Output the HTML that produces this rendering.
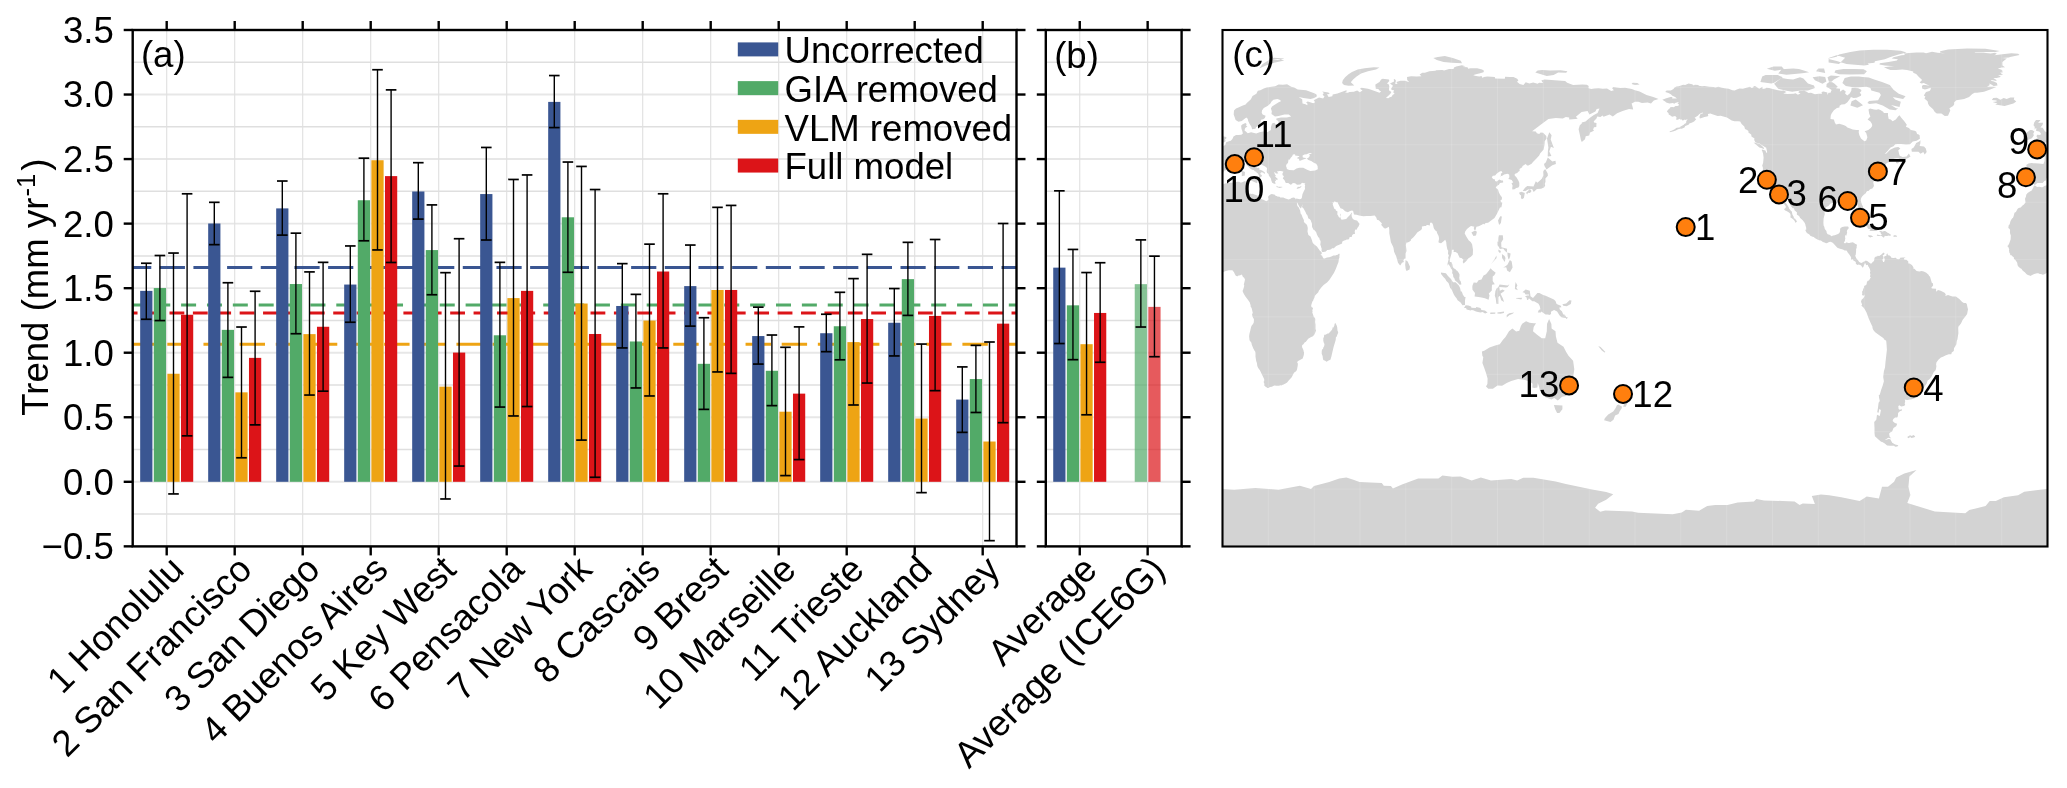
<!DOCTYPE html><html><head><meta charset="utf-8"><style>html,body{margin:0;padding:0;background:#fff;}svg{display:block;will-change:transform;}text{font-family:"Liberation Sans",sans-serif;}</style></head><body><svg width="2067" height="788" viewBox="0 0 2067 788"><rect width="2067" height="788" fill="#fff"/><defs><clipPath id="ca"><rect x="132.7" y="30.0" width="883.8" height="516.4"/></clipPath><clipPath id="cb"><rect x="1045.8" y="30.0" width="135.79999999999995" height="516.4"/></clipPath></defs><g clip-path="url(#ca)"><line x1="132.7" y1="546.35" x2="1016.5" y2="546.35" stroke="#e7e7e7" stroke-width="1.9"/><line x1="132.7" y1="514.07" x2="1016.5" y2="514.07" stroke="#dfdfdf" stroke-width="1.5"/><line x1="132.7" y1="481.80" x2="1016.5" y2="481.80" stroke="#e7e7e7" stroke-width="1.9"/><line x1="132.7" y1="449.53" x2="1016.5" y2="449.53" stroke="#dfdfdf" stroke-width="1.5"/><line x1="132.7" y1="417.25" x2="1016.5" y2="417.25" stroke="#e7e7e7" stroke-width="1.9"/><line x1="132.7" y1="384.98" x2="1016.5" y2="384.98" stroke="#dfdfdf" stroke-width="1.5"/><line x1="132.7" y1="352.71" x2="1016.5" y2="352.71" stroke="#e7e7e7" stroke-width="1.9"/><line x1="132.7" y1="320.44" x2="1016.5" y2="320.44" stroke="#dfdfdf" stroke-width="1.5"/><line x1="132.7" y1="288.17" x2="1016.5" y2="288.17" stroke="#e7e7e7" stroke-width="1.9"/><line x1="132.7" y1="255.89" x2="1016.5" y2="255.89" stroke="#dfdfdf" stroke-width="1.5"/><line x1="132.7" y1="223.62" x2="1016.5" y2="223.62" stroke="#e7e7e7" stroke-width="1.9"/><line x1="132.7" y1="191.35" x2="1016.5" y2="191.35" stroke="#dfdfdf" stroke-width="1.5"/><line x1="132.7" y1="159.07" x2="1016.5" y2="159.07" stroke="#e7e7e7" stroke-width="1.9"/><line x1="132.7" y1="126.80" x2="1016.5" y2="126.80" stroke="#dfdfdf" stroke-width="1.5"/><line x1="132.7" y1="94.53" x2="1016.5" y2="94.53" stroke="#e7e7e7" stroke-width="1.9"/><line x1="132.7" y1="62.26" x2="1016.5" y2="62.26" stroke="#dfdfdf" stroke-width="1.5"/><line x1="132.7" y1="29.99" x2="1016.5" y2="29.99" stroke="#e7e7e7" stroke-width="1.9"/><line x1="166.70" y1="30.0" x2="166.70" y2="546.4" stroke="#e0e0e0" stroke-width="1.1"/><line x1="234.70" y1="30.0" x2="234.70" y2="546.4" stroke="#e0e0e0" stroke-width="1.1"/><line x1="302.70" y1="30.0" x2="302.70" y2="546.4" stroke="#e0e0e0" stroke-width="1.1"/><line x1="370.70" y1="30.0" x2="370.70" y2="546.4" stroke="#e0e0e0" stroke-width="1.1"/><line x1="438.70" y1="30.0" x2="438.70" y2="546.4" stroke="#e0e0e0" stroke-width="1.1"/><line x1="506.70" y1="30.0" x2="506.70" y2="546.4" stroke="#e0e0e0" stroke-width="1.1"/><line x1="574.70" y1="30.0" x2="574.70" y2="546.4" stroke="#e0e0e0" stroke-width="1.1"/><line x1="642.70" y1="30.0" x2="642.70" y2="546.4" stroke="#e0e0e0" stroke-width="1.1"/><line x1="710.70" y1="30.0" x2="710.70" y2="546.4" stroke="#e0e0e0" stroke-width="1.1"/><line x1="778.70" y1="30.0" x2="778.70" y2="546.4" stroke="#e0e0e0" stroke-width="1.1"/><line x1="846.70" y1="30.0" x2="846.70" y2="546.4" stroke="#e0e0e0" stroke-width="1.1"/><line x1="914.70" y1="30.0" x2="914.70" y2="546.4" stroke="#e0e0e0" stroke-width="1.1"/><line x1="982.70" y1="30.0" x2="982.70" y2="546.4" stroke="#e0e0e0" stroke-width="1.1"/></g><g clip-path="url(#cb)"><line x1="1045.8" y1="546.35" x2="1181.6" y2="546.35" stroke="#e7e7e7" stroke-width="1.9"/><line x1="1045.8" y1="514.07" x2="1181.6" y2="514.07" stroke="#dfdfdf" stroke-width="1.5"/><line x1="1045.8" y1="481.80" x2="1181.6" y2="481.80" stroke="#e7e7e7" stroke-width="1.9"/><line x1="1045.8" y1="449.53" x2="1181.6" y2="449.53" stroke="#dfdfdf" stroke-width="1.5"/><line x1="1045.8" y1="417.25" x2="1181.6" y2="417.25" stroke="#e7e7e7" stroke-width="1.9"/><line x1="1045.8" y1="384.98" x2="1181.6" y2="384.98" stroke="#dfdfdf" stroke-width="1.5"/><line x1="1045.8" y1="352.71" x2="1181.6" y2="352.71" stroke="#e7e7e7" stroke-width="1.9"/><line x1="1045.8" y1="320.44" x2="1181.6" y2="320.44" stroke="#dfdfdf" stroke-width="1.5"/><line x1="1045.8" y1="288.17" x2="1181.6" y2="288.17" stroke="#e7e7e7" stroke-width="1.9"/><line x1="1045.8" y1="255.89" x2="1181.6" y2="255.89" stroke="#dfdfdf" stroke-width="1.5"/><line x1="1045.8" y1="223.62" x2="1181.6" y2="223.62" stroke="#e7e7e7" stroke-width="1.9"/><line x1="1045.8" y1="191.35" x2="1181.6" y2="191.35" stroke="#dfdfdf" stroke-width="1.5"/><line x1="1045.8" y1="159.07" x2="1181.6" y2="159.07" stroke="#e7e7e7" stroke-width="1.9"/><line x1="1045.8" y1="126.80" x2="1181.6" y2="126.80" stroke="#dfdfdf" stroke-width="1.5"/><line x1="1045.8" y1="94.53" x2="1181.6" y2="94.53" stroke="#e7e7e7" stroke-width="1.9"/><line x1="1045.8" y1="62.26" x2="1181.6" y2="62.26" stroke="#dfdfdf" stroke-width="1.5"/><line x1="1045.8" y1="29.99" x2="1181.6" y2="29.99" stroke="#e7e7e7" stroke-width="1.9"/><line x1="1079.75" y1="30.0" x2="1079.75" y2="546.4" stroke="#e0e0e0" stroke-width="1.1"/><line x1="1147.65" y1="30.0" x2="1147.65" y2="546.4" stroke="#e0e0e0" stroke-width="1.1"/></g><g clip-path="url(#ca)"><line x1="-42.27" y1="267.55" x2="1021.5" y2="267.55" stroke="#3a5692" stroke-width="2.9" stroke-dasharray="25.2 8.47"/><line x1="25.90" y1="304.99" x2="1021.5" y2="304.99" stroke="#52aa68" stroke-width="2.9" stroke-dasharray="15.0 10.866"/><line x1="29.16" y1="312.99" x2="1021.5" y2="312.99" stroke="#dc1418" stroke-width="2.9" stroke-dasharray="14.8 8.59"/><line x1="22.76" y1="344.23" x2="1021.5" y2="344.23" stroke="#eea414" stroke-width="2.9" stroke-dasharray="25.4 10.74"/></g><rect x="140.18" y="290.88" width="12.24" height="190.92" fill="#3a5692"/><rect x="153.78" y="288.04" width="12.24" height="193.76" fill="#52aa68"/><rect x="167.38" y="373.75" width="12.24" height="108.05" fill="#eea414"/><rect x="180.98" y="314.76" width="12.24" height="167.04" fill="#dc1418"/><line x1="146.30" y1="319.28" x2="146.30" y2="263.25" stroke="#000" stroke-width="1.4"/><line x1="141.00" y1="319.28" x2="151.60" y2="319.28" stroke="#000" stroke-width="1.7"/><line x1="141.00" y1="263.25" x2="151.60" y2="263.25" stroke="#000" stroke-width="1.7"/><line x1="159.90" y1="320.57" x2="159.90" y2="255.51" stroke="#000" stroke-width="1.4"/><line x1="154.60" y1="320.57" x2="165.20" y2="320.57" stroke="#000" stroke-width="1.7"/><line x1="154.60" y1="255.51" x2="165.20" y2="255.51" stroke="#000" stroke-width="1.7"/><line x1="173.50" y1="493.93" x2="173.50" y2="253.05" stroke="#000" stroke-width="1.4"/><line x1="168.20" y1="493.93" x2="178.80" y2="493.93" stroke="#000" stroke-width="1.7"/><line x1="168.20" y1="253.05" x2="178.80" y2="253.05" stroke="#000" stroke-width="1.7"/><line x1="187.10" y1="435.84" x2="187.10" y2="193.80" stroke="#000" stroke-width="1.4"/><line x1="181.80" y1="435.84" x2="192.40" y2="435.84" stroke="#000" stroke-width="1.7"/><line x1="181.80" y1="193.80" x2="192.40" y2="193.80" stroke="#000" stroke-width="1.7"/><rect x="208.18" y="223.49" width="12.24" height="258.31" fill="#3a5692"/><rect x="221.78" y="329.86" width="12.24" height="151.94" fill="#52aa68"/><rect x="235.38" y="392.34" width="12.24" height="89.46" fill="#eea414"/><rect x="248.98" y="357.87" width="12.24" height="123.93" fill="#dc1418"/><line x1="214.30" y1="244.66" x2="214.30" y2="202.32" stroke="#000" stroke-width="1.4"/><line x1="209.00" y1="244.66" x2="219.60" y2="244.66" stroke="#000" stroke-width="1.7"/><line x1="209.00" y1="202.32" x2="219.60" y2="202.32" stroke="#000" stroke-width="1.7"/><line x1="227.90" y1="377.37" x2="227.90" y2="282.74" stroke="#000" stroke-width="1.4"/><line x1="222.60" y1="377.37" x2="233.20" y2="377.37" stroke="#000" stroke-width="1.7"/><line x1="222.60" y1="282.74" x2="233.20" y2="282.74" stroke="#000" stroke-width="1.7"/><line x1="241.50" y1="457.79" x2="241.50" y2="327.02" stroke="#000" stroke-width="1.4"/><line x1="236.20" y1="457.79" x2="246.80" y2="457.79" stroke="#000" stroke-width="1.7"/><line x1="236.20" y1="327.02" x2="246.80" y2="327.02" stroke="#000" stroke-width="1.7"/><line x1="255.10" y1="424.87" x2="255.10" y2="291.26" stroke="#000" stroke-width="1.4"/><line x1="249.80" y1="424.87" x2="260.40" y2="424.87" stroke="#000" stroke-width="1.7"/><line x1="249.80" y1="291.26" x2="260.40" y2="291.26" stroke="#000" stroke-width="1.7"/><rect x="276.18" y="208.39" width="12.24" height="273.41" fill="#3a5692"/><rect x="289.78" y="284.03" width="12.24" height="197.77" fill="#52aa68"/><rect x="303.38" y="334.12" width="12.24" height="147.68" fill="#eea414"/><rect x="316.98" y="326.76" width="12.24" height="155.04" fill="#dc1418"/><line x1="282.30" y1="235.11" x2="282.30" y2="181.02" stroke="#000" stroke-width="1.4"/><line x1="277.00" y1="235.11" x2="287.60" y2="235.11" stroke="#000" stroke-width="1.7"/><line x1="277.00" y1="181.02" x2="287.60" y2="181.02" stroke="#000" stroke-width="1.7"/><line x1="295.90" y1="333.73" x2="295.90" y2="233.17" stroke="#000" stroke-width="1.4"/><line x1="290.60" y1="333.73" x2="301.20" y2="333.73" stroke="#000" stroke-width="1.7"/><line x1="290.60" y1="233.17" x2="301.20" y2="233.17" stroke="#000" stroke-width="1.7"/><line x1="309.50" y1="395.05" x2="309.50" y2="271.90" stroke="#000" stroke-width="1.4"/><line x1="304.20" y1="395.05" x2="314.80" y2="395.05" stroke="#000" stroke-width="1.7"/><line x1="304.20" y1="271.90" x2="314.80" y2="271.90" stroke="#000" stroke-width="1.7"/><line x1="323.10" y1="391.18" x2="323.10" y2="262.35" stroke="#000" stroke-width="1.4"/><line x1="317.80" y1="391.18" x2="328.40" y2="391.18" stroke="#000" stroke-width="1.7"/><line x1="317.80" y1="262.35" x2="328.40" y2="262.35" stroke="#000" stroke-width="1.7"/><rect x="344.18" y="284.55" width="12.24" height="197.25" fill="#3a5692"/><rect x="357.78" y="200.25" width="12.24" height="281.55" fill="#52aa68"/><rect x="371.38" y="160.24" width="12.24" height="321.56" fill="#eea414"/><rect x="384.98" y="176.11" width="12.24" height="305.69" fill="#dc1418"/><line x1="350.30" y1="322.24" x2="350.30" y2="245.95" stroke="#000" stroke-width="1.4"/><line x1="345.00" y1="322.24" x2="355.60" y2="322.24" stroke="#000" stroke-width="1.7"/><line x1="345.00" y1="245.95" x2="355.60" y2="245.95" stroke="#000" stroke-width="1.7"/><line x1="363.90" y1="240.79" x2="363.90" y2="158.17" stroke="#000" stroke-width="1.4"/><line x1="358.60" y1="240.79" x2="369.20" y2="240.79" stroke="#000" stroke-width="1.7"/><line x1="358.60" y1="158.17" x2="369.20" y2="158.17" stroke="#000" stroke-width="1.7"/><line x1="377.50" y1="249.95" x2="377.50" y2="69.74" stroke="#000" stroke-width="1.4"/><line x1="372.20" y1="249.95" x2="382.80" y2="249.95" stroke="#000" stroke-width="1.7"/><line x1="372.20" y1="69.74" x2="382.80" y2="69.74" stroke="#000" stroke-width="1.7"/><line x1="391.10" y1="262.48" x2="391.10" y2="89.88" stroke="#000" stroke-width="1.4"/><line x1="385.80" y1="262.48" x2="396.40" y2="262.48" stroke="#000" stroke-width="1.7"/><line x1="385.80" y1="89.88" x2="396.40" y2="89.88" stroke="#000" stroke-width="1.7"/><rect x="412.18" y="191.48" width="12.24" height="290.32" fill="#3a5692"/><rect x="425.78" y="250.08" width="12.24" height="231.72" fill="#52aa68"/><rect x="439.38" y="386.66" width="12.24" height="95.14" fill="#eea414"/><rect x="452.98" y="352.58" width="12.24" height="129.22" fill="#dc1418"/><line x1="418.30" y1="219.10" x2="418.30" y2="162.69" stroke="#000" stroke-width="1.4"/><line x1="413.00" y1="219.10" x2="423.60" y2="219.10" stroke="#000" stroke-width="1.7"/><line x1="413.00" y1="162.69" x2="423.60" y2="162.69" stroke="#000" stroke-width="1.7"/><line x1="431.90" y1="294.75" x2="431.90" y2="204.90" stroke="#000" stroke-width="1.4"/><line x1="426.60" y1="294.75" x2="437.20" y2="294.75" stroke="#000" stroke-width="1.7"/><line x1="426.60" y1="204.90" x2="437.20" y2="204.90" stroke="#000" stroke-width="1.7"/><line x1="445.50" y1="498.97" x2="445.50" y2="272.67" stroke="#000" stroke-width="1.4"/><line x1="440.20" y1="498.97" x2="450.80" y2="498.97" stroke="#000" stroke-width="1.7"/><line x1="440.20" y1="272.67" x2="450.80" y2="272.67" stroke="#000" stroke-width="1.7"/><line x1="459.10" y1="466.05" x2="459.10" y2="238.72" stroke="#000" stroke-width="1.4"/><line x1="453.80" y1="466.05" x2="464.40" y2="466.05" stroke="#000" stroke-width="1.7"/><line x1="453.80" y1="238.72" x2="464.40" y2="238.72" stroke="#000" stroke-width="1.7"/><rect x="480.18" y="194.06" width="12.24" height="287.74" fill="#3a5692"/><rect x="493.78" y="335.28" width="12.24" height="146.52" fill="#52aa68"/><rect x="507.38" y="298.10" width="12.24" height="183.70" fill="#eea414"/><rect x="520.98" y="290.88" width="12.24" height="190.92" fill="#dc1418"/><line x1="486.30" y1="240.01" x2="486.30" y2="147.46" stroke="#000" stroke-width="1.4"/><line x1="481.00" y1="240.01" x2="491.60" y2="240.01" stroke="#000" stroke-width="1.7"/><line x1="481.00" y1="147.46" x2="491.60" y2="147.46" stroke="#000" stroke-width="1.7"/><line x1="499.90" y1="407.06" x2="499.90" y2="262.35" stroke="#000" stroke-width="1.4"/><line x1="494.60" y1="407.06" x2="505.20" y2="407.06" stroke="#000" stroke-width="1.7"/><line x1="494.60" y1="262.35" x2="505.20" y2="262.35" stroke="#000" stroke-width="1.7"/><line x1="513.50" y1="415.96" x2="513.50" y2="179.47" stroke="#000" stroke-width="1.4"/><line x1="508.20" y1="415.96" x2="518.80" y2="415.96" stroke="#000" stroke-width="1.7"/><line x1="508.20" y1="179.47" x2="518.80" y2="179.47" stroke="#000" stroke-width="1.7"/><line x1="527.10" y1="406.54" x2="527.10" y2="174.95" stroke="#000" stroke-width="1.4"/><line x1="521.80" y1="406.54" x2="532.40" y2="406.54" stroke="#000" stroke-width="1.7"/><line x1="521.80" y1="174.95" x2="532.40" y2="174.95" stroke="#000" stroke-width="1.7"/><rect x="548.18" y="101.89" width="12.24" height="379.91" fill="#3a5692"/><rect x="561.78" y="217.29" width="12.24" height="264.51" fill="#52aa68"/><rect x="575.38" y="303.53" width="12.24" height="178.27" fill="#eea414"/><rect x="588.98" y="333.99" width="12.24" height="147.81" fill="#dc1418"/><line x1="554.30" y1="127.58" x2="554.30" y2="75.55" stroke="#000" stroke-width="1.4"/><line x1="549.00" y1="127.58" x2="559.60" y2="127.58" stroke="#000" stroke-width="1.7"/><line x1="549.00" y1="75.55" x2="559.60" y2="75.55" stroke="#000" stroke-width="1.7"/><line x1="567.90" y1="272.29" x2="567.90" y2="162.04" stroke="#000" stroke-width="1.4"/><line x1="562.60" y1="272.29" x2="573.20" y2="272.29" stroke="#000" stroke-width="1.7"/><line x1="562.60" y1="162.04" x2="573.20" y2="162.04" stroke="#000" stroke-width="1.7"/><line x1="581.50" y1="440.10" x2="581.50" y2="166.43" stroke="#000" stroke-width="1.4"/><line x1="576.20" y1="440.10" x2="586.80" y2="440.10" stroke="#000" stroke-width="1.7"/><line x1="576.20" y1="166.43" x2="586.80" y2="166.43" stroke="#000" stroke-width="1.7"/><line x1="595.10" y1="477.28" x2="595.10" y2="189.54" stroke="#000" stroke-width="1.4"/><line x1="589.80" y1="477.28" x2="600.40" y2="477.28" stroke="#000" stroke-width="1.7"/><line x1="589.80" y1="189.54" x2="600.40" y2="189.54" stroke="#000" stroke-width="1.7"/><rect x="616.18" y="305.98" width="12.24" height="175.82" fill="#3a5692"/><rect x="629.78" y="341.48" width="12.24" height="140.32" fill="#52aa68"/><rect x="643.38" y="320.57" width="12.24" height="161.23" fill="#eea414"/><rect x="656.98" y="271.51" width="12.24" height="210.29" fill="#dc1418"/><line x1="622.30" y1="347.93" x2="622.30" y2="263.64" stroke="#000" stroke-width="1.4"/><line x1="617.00" y1="347.93" x2="627.60" y2="347.93" stroke="#000" stroke-width="1.7"/><line x1="617.00" y1="263.64" x2="627.60" y2="263.64" stroke="#000" stroke-width="1.7"/><line x1="635.90" y1="387.95" x2="635.90" y2="294.36" stroke="#000" stroke-width="1.4"/><line x1="630.60" y1="387.95" x2="641.20" y2="387.95" stroke="#000" stroke-width="1.7"/><line x1="630.60" y1="294.36" x2="641.20" y2="294.36" stroke="#000" stroke-width="1.7"/><line x1="649.50" y1="395.96" x2="649.50" y2="244.15" stroke="#000" stroke-width="1.4"/><line x1="644.20" y1="395.96" x2="654.80" y2="395.96" stroke="#000" stroke-width="1.7"/><line x1="644.20" y1="244.15" x2="654.80" y2="244.15" stroke="#000" stroke-width="1.7"/><line x1="663.10" y1="347.93" x2="663.10" y2="193.80" stroke="#000" stroke-width="1.4"/><line x1="657.80" y1="347.93" x2="668.40" y2="347.93" stroke="#000" stroke-width="1.7"/><line x1="657.80" y1="193.80" x2="668.40" y2="193.80" stroke="#000" stroke-width="1.7"/><rect x="684.18" y="286.10" width="12.24" height="195.70" fill="#3a5692"/><rect x="697.78" y="363.81" width="12.24" height="117.99" fill="#52aa68"/><rect x="711.38" y="289.97" width="12.24" height="191.83" fill="#eea414"/><rect x="724.98" y="289.97" width="12.24" height="191.83" fill="#dc1418"/><line x1="690.30" y1="326.12" x2="690.30" y2="245.05" stroke="#000" stroke-width="1.4"/><line x1="685.00" y1="326.12" x2="695.60" y2="326.12" stroke="#000" stroke-width="1.7"/><line x1="685.00" y1="245.05" x2="695.60" y2="245.05" stroke="#000" stroke-width="1.7"/><line x1="703.90" y1="409.38" x2="703.90" y2="317.73" stroke="#000" stroke-width="1.4"/><line x1="698.60" y1="409.38" x2="709.20" y2="409.38" stroke="#000" stroke-width="1.7"/><line x1="698.60" y1="317.73" x2="709.20" y2="317.73" stroke="#000" stroke-width="1.7"/><line x1="717.50" y1="371.94" x2="717.50" y2="207.35" stroke="#000" stroke-width="1.4"/><line x1="712.20" y1="371.94" x2="722.80" y2="371.94" stroke="#000" stroke-width="1.7"/><line x1="712.20" y1="207.35" x2="722.80" y2="207.35" stroke="#000" stroke-width="1.7"/><line x1="731.10" y1="373.36" x2="731.10" y2="205.42" stroke="#000" stroke-width="1.4"/><line x1="725.80" y1="373.36" x2="736.40" y2="373.36" stroke="#000" stroke-width="1.7"/><line x1="725.80" y1="205.42" x2="736.40" y2="205.42" stroke="#000" stroke-width="1.7"/><rect x="752.18" y="336.06" width="12.24" height="145.74" fill="#3a5692"/><rect x="765.78" y="370.78" width="12.24" height="111.02" fill="#52aa68"/><rect x="779.38" y="411.70" width="12.24" height="70.10" fill="#eea414"/><rect x="792.98" y="393.63" width="12.24" height="88.17" fill="#dc1418"/><line x1="758.30" y1="364.07" x2="758.30" y2="307.14" stroke="#000" stroke-width="1.4"/><line x1="753.00" y1="364.07" x2="763.60" y2="364.07" stroke="#000" stroke-width="1.7"/><line x1="753.00" y1="307.14" x2="763.60" y2="307.14" stroke="#000" stroke-width="1.7"/><line x1="771.90" y1="405.64" x2="771.90" y2="335.02" stroke="#000" stroke-width="1.4"/><line x1="766.60" y1="405.64" x2="777.20" y2="405.64" stroke="#000" stroke-width="1.7"/><line x1="766.60" y1="335.02" x2="777.20" y2="335.02" stroke="#000" stroke-width="1.7"/><line x1="785.50" y1="475.60" x2="785.50" y2="347.29" stroke="#000" stroke-width="1.4"/><line x1="780.20" y1="475.60" x2="790.80" y2="475.60" stroke="#000" stroke-width="1.7"/><line x1="780.20" y1="347.29" x2="790.80" y2="347.29" stroke="#000" stroke-width="1.7"/><line x1="799.10" y1="459.60" x2="799.10" y2="326.89" stroke="#000" stroke-width="1.4"/><line x1="793.80" y1="459.60" x2="804.40" y2="459.60" stroke="#000" stroke-width="1.7"/><line x1="793.80" y1="326.89" x2="804.40" y2="326.89" stroke="#000" stroke-width="1.7"/><rect x="820.18" y="333.22" width="12.24" height="148.58" fill="#3a5692"/><rect x="833.78" y="326.25" width="12.24" height="155.55" fill="#52aa68"/><rect x="847.38" y="342.12" width="12.24" height="139.68" fill="#eea414"/><rect x="860.98" y="319.02" width="12.24" height="162.78" fill="#dc1418"/><line x1="826.30" y1="351.68" x2="826.30" y2="314.24" stroke="#000" stroke-width="1.4"/><line x1="821.00" y1="351.68" x2="831.60" y2="351.68" stroke="#000" stroke-width="1.7"/><line x1="821.00" y1="314.24" x2="831.60" y2="314.24" stroke="#000" stroke-width="1.7"/><line x1="839.90" y1="359.81" x2="839.90" y2="292.30" stroke="#000" stroke-width="1.4"/><line x1="834.60" y1="359.81" x2="845.20" y2="359.81" stroke="#000" stroke-width="1.7"/><line x1="834.60" y1="292.30" x2="845.20" y2="292.30" stroke="#000" stroke-width="1.7"/><line x1="853.50" y1="404.99" x2="853.50" y2="278.61" stroke="#000" stroke-width="1.4"/><line x1="848.20" y1="404.99" x2="858.80" y2="404.99" stroke="#000" stroke-width="1.7"/><line x1="848.20" y1="278.61" x2="858.80" y2="278.61" stroke="#000" stroke-width="1.7"/><line x1="867.10" y1="383.05" x2="867.10" y2="254.34" stroke="#000" stroke-width="1.4"/><line x1="861.80" y1="383.05" x2="872.40" y2="383.05" stroke="#000" stroke-width="1.7"/><line x1="861.80" y1="254.34" x2="872.40" y2="254.34" stroke="#000" stroke-width="1.7"/><rect x="888.18" y="322.76" width="12.24" height="159.04" fill="#3a5692"/><rect x="901.78" y="279.13" width="12.24" height="202.67" fill="#52aa68"/><rect x="915.38" y="418.55" width="12.24" height="63.25" fill="#eea414"/><rect x="928.98" y="315.92" width="12.24" height="165.88" fill="#dc1418"/><line x1="894.30" y1="355.94" x2="894.30" y2="288.55" stroke="#000" stroke-width="1.4"/><line x1="889.00" y1="355.94" x2="899.60" y2="355.94" stroke="#000" stroke-width="1.7"/><line x1="889.00" y1="288.55" x2="899.60" y2="288.55" stroke="#000" stroke-width="1.7"/><line x1="907.90" y1="315.40" x2="907.90" y2="242.34" stroke="#000" stroke-width="1.4"/><line x1="902.60" y1="315.40" x2="913.20" y2="315.40" stroke="#000" stroke-width="1.7"/><line x1="902.60" y1="242.34" x2="913.20" y2="242.34" stroke="#000" stroke-width="1.7"/><line x1="921.50" y1="492.64" x2="921.50" y2="344.06" stroke="#000" stroke-width="1.4"/><line x1="916.20" y1="492.64" x2="926.80" y2="492.64" stroke="#000" stroke-width="1.7"/><line x1="916.20" y1="344.06" x2="926.80" y2="344.06" stroke="#000" stroke-width="1.7"/><line x1="935.10" y1="390.66" x2="935.10" y2="239.50" stroke="#000" stroke-width="1.4"/><line x1="929.80" y1="390.66" x2="940.40" y2="390.66" stroke="#000" stroke-width="1.7"/><line x1="929.80" y1="239.50" x2="940.40" y2="239.50" stroke="#000" stroke-width="1.7"/><rect x="956.18" y="399.57" width="12.24" height="82.23" fill="#3a5692"/><rect x="969.78" y="379.04" width="12.24" height="102.76" fill="#52aa68"/><rect x="983.38" y="441.52" width="12.24" height="40.28" fill="#eea414"/><rect x="996.98" y="323.66" width="12.24" height="158.14" fill="#dc1418"/><line x1="962.30" y1="432.36" x2="962.30" y2="366.91" stroke="#000" stroke-width="1.4"/><line x1="957.00" y1="432.36" x2="967.60" y2="432.36" stroke="#000" stroke-width="1.7"/><line x1="957.00" y1="366.91" x2="967.60" y2="366.91" stroke="#000" stroke-width="1.7"/><line x1="975.90" y1="412.48" x2="975.90" y2="345.35" stroke="#000" stroke-width="1.4"/><line x1="970.60" y1="412.48" x2="981.20" y2="412.48" stroke="#000" stroke-width="1.7"/><line x1="970.60" y1="345.35" x2="981.20" y2="345.35" stroke="#000" stroke-width="1.7"/><line x1="989.50" y1="540.67" x2="989.50" y2="342.00" stroke="#000" stroke-width="1.4"/><line x1="984.20" y1="540.67" x2="994.80" y2="540.67" stroke="#000" stroke-width="1.7"/><line x1="984.20" y1="342.00" x2="994.80" y2="342.00" stroke="#000" stroke-width="1.7"/><line x1="1003.10" y1="422.68" x2="1003.10" y2="223.49" stroke="#000" stroke-width="1.4"/><line x1="997.80" y1="422.68" x2="1008.40" y2="422.68" stroke="#000" stroke-width="1.7"/><line x1="997.80" y1="223.49" x2="1008.40" y2="223.49" stroke="#000" stroke-width="1.7"/><rect x="1053.23" y="267.64" width="12.24" height="214.16" fill="#3a5692"/><rect x="1066.83" y="305.33" width="12.24" height="176.47" fill="#52aa68"/><rect x="1080.43" y="344.19" width="12.24" height="137.61" fill="#eea414"/><rect x="1094.03" y="312.95" width="12.24" height="168.85" fill="#dc1418"/><line x1="1059.35" y1="343.54" x2="1059.35" y2="190.83" stroke="#000" stroke-width="1.4"/><line x1="1054.05" y1="343.54" x2="1064.65" y2="343.54" stroke="#000" stroke-width="1.7"/><line x1="1054.05" y1="190.83" x2="1064.65" y2="190.83" stroke="#000" stroke-width="1.7"/><line x1="1072.95" y1="359.68" x2="1072.95" y2="249.44" stroke="#000" stroke-width="1.4"/><line x1="1067.65" y1="359.68" x2="1078.25" y2="359.68" stroke="#000" stroke-width="1.7"/><line x1="1067.65" y1="249.44" x2="1078.25" y2="249.44" stroke="#000" stroke-width="1.7"/><line x1="1086.55" y1="414.80" x2="1086.55" y2="272.55" stroke="#000" stroke-width="1.4"/><line x1="1081.25" y1="414.80" x2="1091.85" y2="414.80" stroke="#000" stroke-width="1.7"/><line x1="1081.25" y1="272.55" x2="1091.85" y2="272.55" stroke="#000" stroke-width="1.7"/><line x1="1100.15" y1="362.26" x2="1100.15" y2="262.73" stroke="#000" stroke-width="1.4"/><line x1="1094.85" y1="362.26" x2="1105.45" y2="362.26" stroke="#000" stroke-width="1.7"/><line x1="1094.85" y1="262.73" x2="1105.45" y2="262.73" stroke="#000" stroke-width="1.7"/><rect x="1134.73" y="284.16" width="12.24" height="197.64" fill="#52aa68" fill-opacity="0.7"/><rect x="1148.33" y="306.88" width="12.24" height="174.92" fill="#dc1418" fill-opacity="0.7"/><line x1="1140.85" y1="327.02" x2="1140.85" y2="239.89" stroke="#000" stroke-width="1.4"/><line x1="1135.55" y1="327.02" x2="1146.15" y2="327.02" stroke="#000" stroke-width="1.7"/><line x1="1135.55" y1="239.89" x2="1146.15" y2="239.89" stroke="#000" stroke-width="1.7"/><line x1="1154.45" y1="356.71" x2="1154.45" y2="256.15" stroke="#000" stroke-width="1.4"/><line x1="1149.15" y1="356.71" x2="1159.75" y2="356.71" stroke="#000" stroke-width="1.7"/><line x1="1149.15" y1="256.15" x2="1159.75" y2="256.15" stroke="#000" stroke-width="1.7"/><rect x="132.7" y="30.0" width="883.8" height="516.4" fill="none" stroke="#000" stroke-width="2.4"/><line x1="123.69999999999999" y1="546.35" x2="132.7" y2="546.35" stroke="#000" stroke-width="2.4"/><line x1="1016.5" y1="546.35" x2="1025.5" y2="546.35" stroke="#000" stroke-width="2.4"/><line x1="123.69999999999999" y1="481.80" x2="132.7" y2="481.80" stroke="#000" stroke-width="2.4"/><line x1="1016.5" y1="481.80" x2="1025.5" y2="481.80" stroke="#000" stroke-width="2.4"/><line x1="123.69999999999999" y1="417.25" x2="132.7" y2="417.25" stroke="#000" stroke-width="2.4"/><line x1="1016.5" y1="417.25" x2="1025.5" y2="417.25" stroke="#000" stroke-width="2.4"/><line x1="123.69999999999999" y1="352.71" x2="132.7" y2="352.71" stroke="#000" stroke-width="2.4"/><line x1="1016.5" y1="352.71" x2="1025.5" y2="352.71" stroke="#000" stroke-width="2.4"/><line x1="123.69999999999999" y1="288.17" x2="132.7" y2="288.17" stroke="#000" stroke-width="2.4"/><line x1="1016.5" y1="288.17" x2="1025.5" y2="288.17" stroke="#000" stroke-width="2.4"/><line x1="123.69999999999999" y1="223.62" x2="132.7" y2="223.62" stroke="#000" stroke-width="2.4"/><line x1="1016.5" y1="223.62" x2="1025.5" y2="223.62" stroke="#000" stroke-width="2.4"/><line x1="123.69999999999999" y1="159.07" x2="132.7" y2="159.07" stroke="#000" stroke-width="2.4"/><line x1="1016.5" y1="159.07" x2="1025.5" y2="159.07" stroke="#000" stroke-width="2.4"/><line x1="123.69999999999999" y1="94.53" x2="132.7" y2="94.53" stroke="#000" stroke-width="2.4"/><line x1="1016.5" y1="94.53" x2="1025.5" y2="94.53" stroke="#000" stroke-width="2.4"/><line x1="123.69999999999999" y1="29.99" x2="132.7" y2="29.99" stroke="#000" stroke-width="2.4"/><line x1="1016.5" y1="29.99" x2="1025.5" y2="29.99" stroke="#000" stroke-width="2.4"/><line x1="166.70" y1="546.4" x2="166.70" y2="555.4" stroke="#000" stroke-width="2.4"/><line x1="166.70" y1="30.0" x2="166.70" y2="21.0" stroke="#000" stroke-width="2.4"/><line x1="234.70" y1="546.4" x2="234.70" y2="555.4" stroke="#000" stroke-width="2.4"/><line x1="234.70" y1="30.0" x2="234.70" y2="21.0" stroke="#000" stroke-width="2.4"/><line x1="302.70" y1="546.4" x2="302.70" y2="555.4" stroke="#000" stroke-width="2.4"/><line x1="302.70" y1="30.0" x2="302.70" y2="21.0" stroke="#000" stroke-width="2.4"/><line x1="370.70" y1="546.4" x2="370.70" y2="555.4" stroke="#000" stroke-width="2.4"/><line x1="370.70" y1="30.0" x2="370.70" y2="21.0" stroke="#000" stroke-width="2.4"/><line x1="438.70" y1="546.4" x2="438.70" y2="555.4" stroke="#000" stroke-width="2.4"/><line x1="438.70" y1="30.0" x2="438.70" y2="21.0" stroke="#000" stroke-width="2.4"/><line x1="506.70" y1="546.4" x2="506.70" y2="555.4" stroke="#000" stroke-width="2.4"/><line x1="506.70" y1="30.0" x2="506.70" y2="21.0" stroke="#000" stroke-width="2.4"/><line x1="574.70" y1="546.4" x2="574.70" y2="555.4" stroke="#000" stroke-width="2.4"/><line x1="574.70" y1="30.0" x2="574.70" y2="21.0" stroke="#000" stroke-width="2.4"/><line x1="642.70" y1="546.4" x2="642.70" y2="555.4" stroke="#000" stroke-width="2.4"/><line x1="642.70" y1="30.0" x2="642.70" y2="21.0" stroke="#000" stroke-width="2.4"/><line x1="710.70" y1="546.4" x2="710.70" y2="555.4" stroke="#000" stroke-width="2.4"/><line x1="710.70" y1="30.0" x2="710.70" y2="21.0" stroke="#000" stroke-width="2.4"/><line x1="778.70" y1="546.4" x2="778.70" y2="555.4" stroke="#000" stroke-width="2.4"/><line x1="778.70" y1="30.0" x2="778.70" y2="21.0" stroke="#000" stroke-width="2.4"/><line x1="846.70" y1="546.4" x2="846.70" y2="555.4" stroke="#000" stroke-width="2.4"/><line x1="846.70" y1="30.0" x2="846.70" y2="21.0" stroke="#000" stroke-width="2.4"/><line x1="914.70" y1="546.4" x2="914.70" y2="555.4" stroke="#000" stroke-width="2.4"/><line x1="914.70" y1="30.0" x2="914.70" y2="21.0" stroke="#000" stroke-width="2.4"/><line x1="982.70" y1="546.4" x2="982.70" y2="555.4" stroke="#000" stroke-width="2.4"/><line x1="982.70" y1="30.0" x2="982.70" y2="21.0" stroke="#000" stroke-width="2.4"/><rect x="1045.8" y="30.0" width="135.79999999999995" height="516.4" fill="none" stroke="#000" stroke-width="2.4"/><line x1="1036.8" y1="546.35" x2="1045.8" y2="546.35" stroke="#000" stroke-width="2.4"/><line x1="1181.6" y1="546.35" x2="1190.6" y2="546.35" stroke="#000" stroke-width="2.4"/><line x1="1036.8" y1="481.80" x2="1045.8" y2="481.80" stroke="#000" stroke-width="2.4"/><line x1="1181.6" y1="481.80" x2="1190.6" y2="481.80" stroke="#000" stroke-width="2.4"/><line x1="1036.8" y1="417.25" x2="1045.8" y2="417.25" stroke="#000" stroke-width="2.4"/><line x1="1181.6" y1="417.25" x2="1190.6" y2="417.25" stroke="#000" stroke-width="2.4"/><line x1="1036.8" y1="352.71" x2="1045.8" y2="352.71" stroke="#000" stroke-width="2.4"/><line x1="1181.6" y1="352.71" x2="1190.6" y2="352.71" stroke="#000" stroke-width="2.4"/><line x1="1036.8" y1="288.17" x2="1045.8" y2="288.17" stroke="#000" stroke-width="2.4"/><line x1="1181.6" y1="288.17" x2="1190.6" y2="288.17" stroke="#000" stroke-width="2.4"/><line x1="1036.8" y1="223.62" x2="1045.8" y2="223.62" stroke="#000" stroke-width="2.4"/><line x1="1181.6" y1="223.62" x2="1190.6" y2="223.62" stroke="#000" stroke-width="2.4"/><line x1="1036.8" y1="159.07" x2="1045.8" y2="159.07" stroke="#000" stroke-width="2.4"/><line x1="1181.6" y1="159.07" x2="1190.6" y2="159.07" stroke="#000" stroke-width="2.4"/><line x1="1036.8" y1="94.53" x2="1045.8" y2="94.53" stroke="#000" stroke-width="2.4"/><line x1="1181.6" y1="94.53" x2="1190.6" y2="94.53" stroke="#000" stroke-width="2.4"/><line x1="1036.8" y1="29.99" x2="1045.8" y2="29.99" stroke="#000" stroke-width="2.4"/><line x1="1181.6" y1="29.99" x2="1190.6" y2="29.99" stroke="#000" stroke-width="2.4"/><line x1="1079.75" y1="546.4" x2="1079.75" y2="555.4" stroke="#000" stroke-width="2.4"/><line x1="1079.75" y1="30.0" x2="1079.75" y2="21.0" stroke="#000" stroke-width="2.4"/><line x1="1147.65" y1="546.4" x2="1147.65" y2="555.4" stroke="#000" stroke-width="2.4"/><line x1="1147.65" y1="30.0" x2="1147.65" y2="21.0" stroke="#000" stroke-width="2.4"/><text x="113.8" y="559.25" font-size="36.6" text-anchor="end">−0.5</text><text x="113.8" y="494.70" font-size="36.6" text-anchor="end">0.0</text><text x="113.8" y="430.15" font-size="36.6" text-anchor="end">0.5</text><text x="113.8" y="365.61" font-size="36.6" text-anchor="end">1.0</text><text x="113.8" y="301.06" font-size="36.6" text-anchor="end">1.5</text><text x="113.8" y="236.52" font-size="36.6" text-anchor="end">2.0</text><text x="113.8" y="171.97" font-size="36.6" text-anchor="end">2.5</text><text x="113.8" y="107.43" font-size="36.6" text-anchor="end">3.0</text><text x="113.8" y="42.89" font-size="36.6" text-anchor="end">3.5</text><text transform="translate(47.7,287.2) rotate(-90)" font-size="36.6" text-anchor="middle">Trend (mm yr<tspan font-size="25.6" dx="1" dy="-13">-1</tspan><tspan dx="3" dy="13">)</tspan></text><text transform="translate(167.20,552.90) rotate(-45)" font-size="36.6" text-anchor="end" dominant-baseline="hanging">1 Honolulu</text><text transform="translate(235.20,552.90) rotate(-45)" font-size="36.6" text-anchor="end" dominant-baseline="hanging">2 San Francisco</text><text transform="translate(303.20,552.90) rotate(-45)" font-size="36.6" text-anchor="end" dominant-baseline="hanging">3 San Diego</text><text transform="translate(371.20,552.90) rotate(-45)" font-size="36.6" text-anchor="end" dominant-baseline="hanging">4 Buenos Aires</text><text transform="translate(439.20,552.90) rotate(-45)" font-size="36.6" text-anchor="end" dominant-baseline="hanging">5 Key West</text><text transform="translate(507.20,552.90) rotate(-45)" font-size="36.6" text-anchor="end" dominant-baseline="hanging">6 Pensacola</text><text transform="translate(575.20,552.90) rotate(-45)" font-size="36.6" text-anchor="end" dominant-baseline="hanging">7 New York</text><text transform="translate(643.20,552.90) rotate(-45)" font-size="36.6" text-anchor="end" dominant-baseline="hanging">8 Cascais</text><text transform="translate(711.20,552.90) rotate(-45)" font-size="36.6" text-anchor="end" dominant-baseline="hanging">9 Brest</text><text transform="translate(779.20,552.90) rotate(-45)" font-size="36.6" text-anchor="end" dominant-baseline="hanging">10 Marseille</text><text transform="translate(847.20,552.90) rotate(-45)" font-size="36.6" text-anchor="end" dominant-baseline="hanging">11 Trieste</text><text transform="translate(915.20,552.90) rotate(-45)" font-size="36.6" text-anchor="end" dominant-baseline="hanging">12 Auckland</text><text transform="translate(983.20,552.90) rotate(-45)" font-size="36.6" text-anchor="end" dominant-baseline="hanging">13 Sydney</text><text transform="translate(1080.25,552.90) rotate(-45)" font-size="36.6" text-anchor="end" dominant-baseline="hanging">Average</text><text transform="translate(1148.15,552.90) rotate(-45)" font-size="36.6" text-anchor="end" dominant-baseline="hanging">Average (ICE6G)</text><text x="140.9" y="66.8" font-size="36.6">(a)</text><text x="1054.2" y="67.5" font-size="36.6">(b)</text><rect x="737.8" y="42.40" width="40.4" height="14" fill="#3a5692"/><text x="784.5" y="63.30" font-size="36.6">Uncorrected</text><rect x="737.8" y="81.12" width="40.4" height="14" fill="#52aa68"/><text x="784.5" y="102.02" font-size="36.6">GIA removed</text><rect x="737.8" y="119.84" width="40.4" height="14" fill="#eea414"/><text x="784.5" y="140.74" font-size="36.6">VLM removed</text><rect x="737.8" y="158.56" width="40.4" height="14" fill="#dc1418"/><text x="784.5" y="179.46" font-size="36.6">Full model</text><g id="map"><rect x="1222.5" y="30.0" width="825.0" height="516.5" fill="#fff"/><clipPath id="cm"><rect x="1222.5" y="30.0" width="825.0" height="516.5"/></clipPath><g clip-path="url(#cm)"><path d="M1209.7,184.9L1207.8,182.7L1205.5,181.5L1202.1,182.2L1202.3,179.5L1202.1,177.8L1200.8,177.2L1201.2,175.2L1202.1,172.9L1202.6,170.0L1202.1,168.0L1201.2,164.9L1203.5,163.4L1206.5,163.1L1209.9,163.3L1213.8,163.6L1218.4,163.9L1219.5,161.1L1219.8,157.7L1219.8,155.7L1217.5,153.1L1215.6,152.0L1212.2,150.8L1211.6,149.4L1213.3,148.5L1215.6,148.2L1217.9,148.8L1219.3,148.5L1218.8,145.8L1220.2,146.5L1223.0,146.2L1225.2,144.9L1226.2,142.2L1228.2,141.6L1230.8,140.8L1232.4,139.0L1233.5,136.5L1236.0,135.0L1238.5,135.0L1241.3,134.7L1242.9,133.6L1242.2,130.7L1241.5,129.0L1241.1,125.8L1242.2,124.4L1245.4,123.0L1246.6,124.1L1246.1,125.8L1247.5,126.4L1245.2,128.1L1244.5,130.4L1245.9,131.6L1247.7,133.3L1251.1,132.2L1254.1,133.0L1256.2,133.6L1260.3,131.9L1265.1,131.3L1267.4,132.2L1270.9,129.9L1270.9,127.3L1272.0,123.5L1274.3,122.7L1276.1,124.7L1278.4,124.1L1278.4,121.0L1276.4,120.1L1276.4,118.4L1280.9,117.5L1286.7,117.5L1291.2,116.4L1288.7,114.6L1284.4,114.6L1278.6,116.1L1275.0,116.4L1271.5,114.1L1271.8,111.2L1270.9,108.6L1272.0,106.6L1274.3,104.9L1279.1,102.0L1280.7,101.4L1280.5,100.3L1278.9,99.4L1277.3,98.9L1273.4,99.7L1271.3,101.7L1270.6,103.2L1267.9,105.8L1263.8,108.0L1262.1,110.3L1261.7,112.4L1262.6,114.4L1265.6,115.8L1264.9,118.1L1263.3,119.2L1261.0,119.8L1260.3,123.3L1259.2,125.8L1256.2,127.0L1255.5,128.7L1252.1,129.3L1251.4,126.7L1249.5,123.8L1248.2,121.0L1247.7,118.7L1246.3,117.5L1244.3,119.0L1241.8,121.0L1238.5,121.8L1235.6,120.1L1234.6,116.9L1233.7,114.6L1234.0,110.6L1236.0,108.6L1239.0,107.2L1242.2,105.8L1245.6,104.6L1246.6,103.2L1250.9,99.2L1252.5,96.0L1256.4,93.7L1257.8,90.8L1260.3,90.3L1263.8,88.5L1266.5,87.4L1271.5,86.8L1275.2,86.2L1278.6,84.5L1283.0,84.8L1287.1,84.2L1291.2,86.8L1294.2,87.4L1297.7,89.4L1306.1,90.3L1314.9,93.4L1316.7,94.8L1316.7,96.6L1314.2,98.0L1310.5,98.9L1303.6,98.0L1298.6,97.1L1302.2,99.2L1302.5,103.5L1305.5,104.3L1307.3,105.2L1307.5,103.7L1306.1,102.3L1307.8,101.4L1313.2,103.2L1315.1,102.3L1313.7,100.3L1319.0,97.4L1323.1,98.6L1324.5,96.6L1322.6,94.8L1323.8,93.1L1322.2,91.4L1328.4,92.6L1329.8,94.0L1327.0,94.3L1328.6,96.9L1332.3,96.3L1332.7,94.6L1337.5,93.4L1345.6,90.5L1347.4,90.8L1345.1,92.6L1347.9,92.8L1349.5,92.0L1353.8,91.7L1357.2,90.5L1359.8,92.3L1362.5,90.5L1360.0,88.8L1361.4,87.7L1368.0,88.8L1371.2,89.7L1379.5,92.8L1381.1,91.4L1378.8,90.0L1378.6,89.1L1375.8,88.8L1375.4,85.4L1375.4,84.5L1379.5,81.9L1381.1,79.4L1382.7,78.8L1388.9,79.4L1389.3,81.1L1387.0,83.4L1388.6,84.2L1389.3,86.2L1388.9,90.3L1391.4,92.0L1390.2,94.0L1385.9,98.0L1388.4,98.3L1389.3,97.4L1391.9,96.6L1392.5,95.1L1394.6,93.7L1393.2,92.3L1394.1,90.3L1391.6,90.0L1391.2,88.5L1393.0,85.7L1390.0,83.4L1394.1,81.4L1393.7,79.4L1394.8,79.1L1396.0,80.8L1395.1,83.7L1397.6,83.9L1396.4,81.9L1400.3,80.8L1405.1,80.8L1409.3,82.2L1407.2,79.9L1407.0,77.1L1411.1,76.2L1416.6,76.5L1421.4,76.2L1419.6,74.5L1422.3,72.8L1424.9,72.8L1429.4,71.3L1435.4,70.7L1436.1,70.2L1442.3,69.9L1444.1,70.5L1449.1,69.0L1453.5,69.0L1454.0,67.6L1456.2,66.4L1461.8,65.3L1465.6,66.2L1462.4,67.0L1467.5,67.3L1468.2,68.7L1470.5,68.2L1477.1,68.2L1482.1,69.6L1484.0,70.7L1483.5,72.2L1481.0,73.0L1475.0,74.5L1473.2,75.3L1476.0,75.9L1479.4,76.5L1481.5,75.9L1482.6,77.9L1483.8,77.1L1487.4,76.5L1494.8,77.1L1495.2,78.5L1504.8,78.8L1505.1,76.8L1509.9,77.1L1513.5,77.1L1517.2,78.8L1518.4,80.5L1517.0,81.7L1519.7,83.9L1523.4,85.1L1525.7,82.2L1529.4,83.4L1533.2,82.5L1537.6,83.7L1539.2,82.8L1543.1,83.1L1541.3,80.5L1544.5,79.4L1565.1,81.1L1567.2,82.8L1573.1,85.1L1582.3,84.5L1586.9,84.8L1588.7,86.0L1588.5,88.2L1591.2,89.1L1594.4,88.5L1598.6,88.2L1602.7,88.8L1607.0,88.5L1611.2,91.1L1613.9,90.3L1612.1,88.2L1613.2,87.1L1620.3,88.0L1625.1,87.7L1631.8,89.1L1635.0,90.3L1639.6,91.4L1646.5,95.1L1653.3,97.1L1658.6,98.9L1653.8,100.6L1651.0,103.5L1647.6,102.6L1641.9,102.9L1638.4,101.7L1635.0,101.7L1631.6,103.5L1632.5,106.6L1633.2,109.5L1629.0,108.9L1622.6,110.9L1617.1,113.2L1612.8,116.4L1609.6,114.4L1603.6,116.7L1602.5,115.5L1600.4,116.9L1597.2,116.4L1596.5,118.4L1593.8,121.2L1594.0,122.4L1596.5,123.0L1596.3,127.0L1594.0,127.3L1593.1,129.6L1594.0,130.7L1590.1,132.4L1589.2,135.6L1585.7,136.2L1585.0,139.3L1581.8,141.9L1580.9,139.9L1580.0,135.6L1578.6,129.3L1579.8,125.3L1581.8,123.5L1581.8,122.4L1585.5,121.5L1589.6,118.1L1593.5,115.2L1597.6,112.9L1599.5,108.6L1596.7,108.9L1595.4,111.5L1589.4,114.6L1587.6,110.9L1581.6,112.1L1575.9,116.7L1577.7,118.7L1572.7,119.2L1569.2,119.5L1569.2,117.5L1565.8,116.9L1562.8,118.4L1555.9,118.1L1548.4,119.0L1541.0,124.4L1532.1,131.3L1535.8,131.6L1536.9,133.3L1539.2,133.9L1540.6,132.4L1543.1,132.7L1546.3,135.9L1546.5,138.5L1544.7,141.3L1544.5,144.8L1543.6,149.4L1540.1,153.4L1539.2,155.4L1536.2,158.8L1533.0,162.0L1531.6,163.7L1528.4,165.4L1527.1,165.4L1525.7,164.0L1522.5,166.0L1522.2,167.2L1519.5,168.9L1519.7,170.9L1518.6,171.5L1517.2,172.9L1515.8,173.5L1514.7,174.0L1514.7,175.5L1516.6,177.5L1518.6,180.9L1519.3,182.7L1519.3,186.1L1518.4,187.5L1516.3,188.1L1514.5,189.3L1512.4,189.5L1512.2,188.1L1512.6,185.8L1511.5,182.9L1513.3,182.4L1511.7,180.1L1509.6,179.2L1508.3,178.9L1509.4,177.2L1509.2,174.6L1507.4,173.8L1504.1,174.6L1502.3,175.8L1499.9,176.6L1501.2,175.2L1500.7,174.0L1502.5,172.3L1501.2,170.9L1499.3,171.8L1496.6,173.8L1495.2,175.5L1492.9,175.8L1491.8,177.2L1493.1,178.9L1495.0,179.5L1495.0,180.9L1496.8,181.5L1499.3,179.5L1501.4,180.6L1503.0,180.6L1503.2,182.4L1500.0,182.9L1498.9,184.7L1496.8,186.1L1495.7,187.8L1498.0,189.5L1498.9,192.4L1500.2,195.0L1501.9,197.3L1501.9,199.6L1500.5,200.2L1500.9,201.9L1502.3,202.7L1501.4,207.3L1500.0,207.6L1496.6,214.5L1494.5,217.9L1488.1,222.8L1485.6,223.1L1484.2,224.5L1483.3,223.7L1481.9,224.8L1478.7,226.3L1476.4,226.8L1475.5,230.0L1474.4,230.0L1473.7,228.0L1474.4,226.8L1471.1,226.0L1470.1,226.4L1467.0,228.9L1465.2,231.4L1464.7,233.4L1466.3,236.6L1468.6,240.3L1470.7,242.1L1472.1,244.3L1473.0,249.8L1472.8,254.7L1470.9,256.7L1468.2,258.4L1466.3,261.0L1463.6,263.6L1462.7,261.9L1463.4,259.8L1461.5,258.1L1459.7,257.8L1458.8,256.1L1457.6,253.2L1455.6,252.1L1453.5,252.1L1453.9,249.8L1451.9,249.8L1451.7,253.0L1449.8,259.7L1449.8,261.9L1451.4,261.9L1452.4,264.4L1452.8,267.0L1454.0,268.5L1455.3,269.0L1456.5,270.5L1457.2,270.7L1458.5,272.5L1459.5,274.2L1459.5,276.2L1459.2,277.6L1459.5,279.6L1459.7,280.2L1460.6,281.1L1461.3,283.7L1461.3,284.5L1459.7,284.8L1457.6,282.6L1454.9,280.2L1454.6,278.8L1453.3,277.1L1453.0,274.5L1452.1,273.0L1452.4,271.0L1451.9,269.6L1451.0,268.7L1450.5,267.3L1449.4,265.6L1448.2,264.1L1447.8,265.9L1447.5,264.1L1447.8,262.4L1448.5,259.8L1448.2,257.5L1448.9,255.5L1448.0,253.8L1448.2,250.7L1447.3,249.2L1446.6,245.8L1446.2,242.1L1445.2,239.8L1443.6,241.2L1441.1,243.2L1439.8,242.9L1438.4,242.3L1439.1,238.6L1438.6,236.0L1436.8,232.6L1437.2,231.7L1435.9,231.1L1434.2,228.9L1433.6,227.4L1433.3,226.0L1432.9,224.5L1432.0,222.8L1429.9,222.8L1430.1,224.0L1429.4,225.7L1428.3,225.1L1426.5,225.0L1426.2,226.0L1424.6,226.0L1421.9,226.6L1421.9,228.9L1420.7,230.3L1417.5,232.3L1414.8,235.7L1413.2,237.5L1410.9,239.5L1410.9,240.6L1409.7,241.5L1407.7,242.5L1406.5,242.6L1405.8,244.9L1406.3,248.7L1406.5,250.9L1405.6,253.5L1405.6,258.4L1404.2,258.7L1403.3,260.7L1404.0,261.9L1401.9,262.7L1401.0,264.4L1400.1,265.4L1398.0,262.7L1396.9,258.7L1396.0,255.8L1395.3,254.4L1394.1,251.8L1393.5,248.1L1393.0,246.4L1390.9,242.3L1390.0,236.9L1389.3,233.2L1389.3,229.7L1388.9,226.8L1385.7,228.6L1384.1,228.3L1381.1,224.8L1382.0,223.7L1381.3,222.8L1378.8,220.2L1377.0,219.7L1376.3,217.4L1374.7,215.4L1370.3,215.9L1366.6,215.9L1363.4,216.2L1359.1,215.4L1356.6,214.8L1354.0,214.5L1353.1,210.9L1352.0,210.5L1350.1,210.9L1347.9,212.2L1345.1,211.3L1342.8,209.1L1340.5,208.2L1339.1,205.6L1337.3,201.9L1336.2,202.2L1334.6,201.3L1333.9,202.5L1332.4,202.2L1333.0,203.6L1332.7,204.2L1333.4,206.2L1334.3,208.8L1335.5,209.3L1335.9,210.5L1337.5,211.6L1337.3,213.9L1337.5,214.8L1338.2,215.7L1338.9,217.2L1340.1,217.7L1340.8,215.9L1340.8,214.2L1340.1,213.4L1340.8,218.7L1341.7,219.7L1346.2,219.1L1347.9,217.1L1349.5,215.4L1351.1,213.4L1351.8,212.5L1352.0,212.8L1351.8,213.9L1351.5,214.5L1351.8,216.8L1352.7,218.8L1354.0,219.7L1355.6,220.2L1357.0,220.5L1358.9,223.1L1359.5,223.7L1359.5,224.3L1358.4,226.8L1357.5,227.7L1356.6,229.7L1355.4,229.4L1355.0,230.3L1354.7,231.7L1355.0,233.4L1354.7,234.0L1353.6,234.0L1352.2,234.9L1352.0,236.3L1351.5,236.9L1350.1,236.9L1349.2,237.7L1349.2,238.9L1348.1,239.6L1346.7,239.5L1345.3,240.3L1344.2,240.5L1342.6,241.2L1342.1,242.6L1342.1,243.5L1339.8,244.6L1336.2,246.1L1334.1,248.1L1333.0,248.4L1332.3,248.1L1331.1,249.2L1329.5,249.8L1327.7,250.1L1327.0,250.1L1326.5,250.9L1325.9,251.1L1325.6,251.8L1324.5,251.8L1323.8,252.1L1322.2,252.1L1321.5,250.4L1321.7,248.7L1321.3,247.8L1320.8,245.8L1320.1,244.6L1320.6,244.3L1320.4,243.2L1320.6,242.6L1320.6,241.5L1320.1,240.0L1319.4,239.2L1319.4,238.0L1318.3,237.2L1316.9,234.6L1316.2,232.3L1314.6,230.3L1313.7,230.0L1312.1,227.1L1311.9,223.4L1310.7,220.2L1309.6,219.1L1308.4,218.5L1307.8,216.8L1307.8,216.2L1307.1,214.8L1306.4,214.2L1305.5,211.9L1304.1,209.6L1302.9,207.6L1301.8,207.6L1302.2,206.2L1302.6,203.9L1301.1,198.7L1301.8,197.9L1302.5,194.1L1302.9,193.3L1303.9,191.0L1305.0,189.0L1304.8,186.7L1305.2,185.5L1304.5,184.1L1305.5,183.1L1304.0,183.2L1302.0,182.7L1300.4,184.4L1297.0,184.7L1295.1,183.2L1292.6,182.9L1292.2,184.1L1290.6,184.7L1288.3,182.9L1285.8,182.9L1284.4,180.1L1282.8,178.6L1283.9,176.3L1282.5,174.9L1282.5,173.2L1283.5,171.8L1282.1,171.2L1280.7,170.9L1279.6,170.9L1276.8,171.5L1278.4,173.2L1277.3,173.6L1275.9,173.6L1274.8,172.0L1274.3,172.6L1274.8,174.3L1275.9,175.8L1275.1,176.4L1276.4,177.8L1277.5,178.6L1277.5,180.1L1275.4,179.5L1276.1,180.9L1274.8,181.2L1275.7,183.8L1274.1,183.8L1272.2,182.7L1271.3,180.4L1270.9,178.4L1269.9,176.9L1268.8,175.5L1268.8,174.6L1268.3,174.3L1268.2,173.8L1267.0,172.8L1266.7,171.5L1267.0,168.0L1265.8,166.9L1264.8,166.3L1262.6,165.3L1261.2,164.3L1259.2,163.4L1257.3,161.4L1257.8,161.1L1256.6,160.0L1256.6,158.8L1255.3,158.6L1254.5,159.7L1253.9,158.8L1254.1,157.4L1252.5,157.1L1251.4,157.7L1250.7,158.0L1250.9,159.4L1250.7,160.3L1251.4,161.7L1253.4,163.1L1254.6,165.4L1257.1,167.9L1258.9,167.8L1259.6,168.6L1258.9,169.2L1262.1,170.6L1264.7,172.3L1264.9,172.9L1264.4,174.0L1263.1,172.6L1261.2,172.3L1260.1,174.0L1261.9,175.2L1261.7,176.6L1260.5,176.9L1259.4,179.2L1258.5,179.5L1258.5,178.6L1258.9,177.1L1259.4,176.3L1257.8,173.3L1256.9,172.9L1256.2,171.8L1254.8,171.2L1253.7,170.0L1252.1,169.7L1250.2,168.6L1248.2,166.6L1246.6,165.2L1245.9,162.3L1244.7,161.9L1242.9,160.8L1241.8,161.4L1240.5,162.6L1239.5,162.9L1237.4,164.6L1233.0,163.7L1229.6,164.6L1229.4,166.3L1229.8,168.0L1227.3,170.0L1224.3,170.6L1222.7,173.2L1221.8,175.5L1222.7,177.2L1221.4,178.4L1220.9,180.4L1219.3,180.9L1217.7,182.9L1212.4,182.9L1211.0,184.1L1210.1,185.1ZM2034.7,184.9L2032.8,182.7L2030.5,181.5L2027.1,182.2L2027.3,179.5L2027.1,177.8L2025.8,177.2L2026.2,175.2L2027.1,172.9L2027.6,170.0L2027.1,168.0L2026.2,164.9L2028.5,163.4L2031.5,163.1L2034.9,163.3L2038.8,163.6L2043.4,163.9L2044.5,161.1L2044.8,157.7L2044.8,155.7L2042.5,153.1L2040.6,152.0L2037.2,150.8L2036.6,149.4L2038.3,148.5L2040.6,148.2L2042.9,148.8L2044.3,148.5L2043.8,145.8L2045.2,146.5L2048.0,146.2L2050.2,144.9L2051.2,142.2L2053.2,141.6L2055.8,140.8L2057.4,139.0L2058.5,136.5L2061.0,135.0L2063.5,135.0L2066.3,134.7L2067.9,133.6L2067.2,130.7L2066.5,129.0L2066.1,125.8L2067.2,124.4L2070.4,123.0L2071.6,124.1L2071.1,125.8L2072.5,126.4L2070.2,128.1L2069.5,130.4L2070.9,131.6L2072.7,133.3L2076.1,132.2L2079.1,133.0L2081.2,133.6L2085.3,131.9L2090.1,131.3L2092.4,132.2L2095.9,129.9L2095.9,127.3L2097.0,123.5L2099.3,122.7L2101.1,124.7L2103.4,124.1L2103.4,121.0L2101.4,120.1L2101.4,118.4L2105.9,117.5L2111.7,117.5L2116.2,116.4L2113.7,114.6L2109.4,114.6L2103.6,116.1L2100.0,116.4L2096.5,114.1L2096.8,111.2L2095.9,108.6L2097.0,106.6L2099.3,104.9L2104.1,102.0L2105.7,101.4L2105.5,100.3L2103.9,99.4L2102.3,98.9L2098.4,99.7L2096.3,101.7L2095.6,103.2L2092.9,105.8L2088.8,108.0L2087.1,110.3L2086.7,112.4L2087.6,114.4L2090.6,115.8L2089.9,118.1L2088.3,119.2L2086.0,119.8L2085.3,123.3L2084.2,125.8L2081.2,127.0L2080.5,128.7L2077.1,129.3L2076.4,126.7L2074.5,123.8L2073.2,121.0L2072.7,118.7L2071.3,117.5L2069.3,119.0L2066.8,121.0L2063.5,121.8L2060.6,120.1L2059.6,116.9L2058.7,114.6L2059.0,110.6L2061.0,108.6L2064.0,107.2L2067.2,105.8L2070.6,104.6L2071.6,103.2L2075.9,99.2L2077.5,96.0L2081.4,93.7L2082.8,90.8L2085.3,90.3L2088.8,88.5L2091.5,87.4L2096.5,86.8L2100.2,86.2L2103.6,84.5L2108.0,84.8L2112.1,84.2L2116.2,86.8L2119.2,87.4L2122.7,89.4L2131.1,90.3L2139.9,93.4L2141.7,94.8L2141.7,96.6L2139.2,98.0L2135.5,98.9L2128.6,98.0L2123.6,97.1L2127.2,99.2L2127.5,103.5L2130.5,104.3L2132.3,105.2L2132.5,103.7L2131.1,102.3L2132.8,101.4L2138.2,103.2L2140.1,102.3L2138.7,100.3L2144.0,97.4L2148.1,98.6L2149.5,96.6L2147.6,94.8L2148.8,93.1L2147.2,91.4L2153.4,92.6L2154.8,94.0L2152.0,94.3L2153.6,96.9L2157.3,96.3L2157.7,94.6L2162.5,93.4L2170.6,90.5L2172.4,90.8L2170.1,92.6L2172.9,92.8L2174.5,92.0L2178.8,91.7L2182.2,90.5L2184.8,92.3L2187.5,90.5L2185.0,88.8L2186.4,87.7L2193.0,88.8L2196.2,89.7L2204.5,92.8L2206.1,91.4L2203.8,90.0L2203.6,89.1L2200.8,88.8L2200.4,85.4L2200.4,84.5L2204.5,81.9L2206.1,79.4L2207.7,78.8L2213.9,79.4L2214.3,81.1L2212.0,83.4L2213.6,84.2L2214.3,86.2L2213.9,90.3L2216.4,92.0L2215.2,94.0L2210.9,98.0L2213.4,98.3L2214.3,97.4L2216.9,96.6L2217.5,95.1L2219.6,93.7L2218.2,92.3L2219.1,90.3L2216.6,90.0L2216.2,88.5L2218.0,85.7L2215.0,83.4L2219.1,81.4L2218.7,79.4L2219.8,79.1L2221.0,80.8L2220.1,83.7L2222.6,83.9L2221.4,81.9L2225.3,80.8L2230.1,80.8L2234.3,82.2L2232.2,79.9L2232.0,77.1L2236.1,76.2L2241.6,76.5L2246.4,76.2L2244.6,74.5L2247.3,72.8L2249.9,72.8L2254.4,71.3L2260.4,70.7L2261.1,70.2L2267.3,69.9L2269.1,70.5L2274.1,69.0L2278.5,69.0L2279.0,67.6L2281.2,66.4L2286.8,65.3L2290.6,66.2L2287.4,67.0L2292.5,67.3L2293.2,68.7L2295.5,68.2L2302.1,68.2L2307.1,69.6L2309.0,70.7L2308.5,72.2L2306.0,73.0L2300.0,74.5L2298.2,75.3L2301.0,75.9L2304.4,76.5L2306.5,75.9L2307.6,77.9L2308.8,77.1L2312.4,76.5L2319.8,77.1L2320.2,78.5L2329.8,78.8L2330.1,76.8L2334.9,77.1L2338.5,77.1L2342.2,78.8L2343.4,80.5L2342.0,81.7L2344.7,83.9L2348.4,85.1L2350.7,82.2L2354.4,83.4L2358.2,82.5L2362.6,83.7L2364.2,82.8L2368.1,83.1L2366.3,80.5L2369.5,79.4L2390.1,81.1L2392.2,82.8L2398.1,85.1L2407.3,84.5L2411.9,84.8L2413.7,86.0L2413.5,88.2L2416.2,89.1L2419.4,88.5L2423.6,88.2L2427.7,88.8L2432.0,88.5L2436.2,91.1L2438.9,90.3L2437.1,88.2L2438.2,87.1L2445.3,88.0L2450.1,87.7L2456.8,89.1L2460.0,90.3L2464.6,91.4L2471.5,95.1L2478.3,97.1L2483.6,98.9L2478.8,100.6L2476.0,103.5L2472.6,102.6L2466.9,102.9L2463.4,101.7L2460.0,101.7L2456.6,103.5L2457.5,106.6L2458.2,109.5L2454.0,108.9L2447.6,110.9L2442.1,113.2L2437.8,116.4L2434.6,114.4L2428.6,116.7L2427.5,115.5L2425.4,116.9L2422.2,116.4L2421.5,118.4L2418.8,121.2L2419.0,122.4L2421.5,123.0L2421.3,127.0L2419.0,127.3L2418.1,129.6L2419.0,130.7L2415.1,132.4L2414.2,135.6L2410.7,136.2L2410.0,139.3L2406.8,141.9L2405.9,139.9L2405.0,135.6L2403.6,129.3L2404.8,125.3L2406.8,123.5L2406.8,122.4L2410.5,121.5L2414.6,118.1L2418.5,115.2L2422.6,112.9L2424.5,108.6L2421.7,108.9L2420.4,111.5L2414.4,114.6L2412.6,110.9L2406.6,112.1L2400.9,116.7L2402.7,118.7L2397.7,119.2L2394.2,119.5L2394.2,117.5L2390.8,116.9L2387.8,118.4L2380.9,118.1L2373.4,119.0L2366.0,124.4L2357.1,131.3L2360.8,131.6L2361.9,133.3L2364.2,133.9L2365.6,132.4L2368.1,132.7L2371.3,135.9L2371.5,138.5L2369.7,141.3L2369.5,144.8L2368.6,149.4L2365.1,153.4L2364.2,155.4L2361.2,158.8L2358.0,162.0L2356.6,163.7L2353.4,165.4L2352.1,165.4L2350.7,164.0L2347.5,166.0L2347.2,167.2L2344.5,168.9L2344.7,170.9L2343.6,171.5L2342.2,172.9L2340.8,173.5L2339.7,174.0L2339.7,175.5L2341.6,177.5L2343.6,180.9L2344.3,182.7L2344.3,186.1L2343.4,187.5L2341.3,188.1L2339.5,189.3L2337.4,189.5L2337.2,188.1L2337.6,185.8L2336.5,182.9L2338.3,182.4L2336.7,180.1L2334.6,179.2L2333.3,178.9L2334.4,177.2L2334.2,174.6L2332.4,173.8L2329.1,174.6L2327.3,175.8L2324.9,176.6L2326.2,175.2L2325.7,174.0L2327.5,172.3L2326.2,170.9L2324.3,171.8L2321.6,173.8L2320.2,175.5L2317.9,175.8L2316.8,177.2L2318.1,178.9L2320.0,179.5L2320.0,180.9L2321.8,181.5L2324.3,179.5L2326.4,180.6L2328.0,180.6L2328.2,182.4L2325.0,182.9L2323.9,184.7L2321.8,186.1L2320.7,187.8L2323.0,189.5L2323.9,192.4L2325.2,195.0L2326.9,197.3L2326.9,199.6L2325.5,200.2L2325.9,201.9L2327.3,202.7L2326.4,207.3L2325.0,207.6L2321.6,214.5L2319.5,217.9L2313.1,222.8L2310.6,223.1L2309.2,224.5L2308.3,223.7L2306.9,224.8L2303.7,226.3L2301.4,226.8L2300.5,230.0L2299.4,230.0L2298.7,228.0L2299.4,226.8L2296.1,226.0L2295.1,226.4L2292.0,228.9L2290.2,231.4L2289.7,233.4L2291.3,236.6L2293.6,240.3L2295.7,242.1L2297.1,244.3L2298.0,249.8L2297.8,254.7L2295.9,256.7L2293.2,258.4L2291.3,261.0L2288.6,263.6L2287.7,261.9L2288.4,259.8L2286.5,258.1L2284.7,257.8L2283.8,256.1L2282.6,253.2L2280.6,252.1L2278.5,252.1L2278.9,249.8L2276.9,249.8L2276.7,253.0L2274.8,259.7L2274.8,261.9L2276.4,261.9L2277.4,264.4L2277.8,267.0L2279.0,268.5L2280.3,269.0L2281.5,270.5L2282.2,270.7L2283.4,272.5L2284.5,274.2L2284.5,276.2L2284.2,277.6L2284.5,279.6L2284.7,280.2L2285.6,281.1L2286.3,283.7L2286.3,284.5L2284.7,284.8L2282.6,282.6L2279.9,280.2L2279.6,278.8L2278.3,277.1L2278.0,274.5L2277.1,273.0L2277.4,271.0L2276.9,269.6L2276.0,268.7L2275.5,267.3L2274.4,265.6L2273.2,264.1L2272.8,265.9L2272.5,264.1L2272.8,262.4L2273.5,259.8L2273.2,257.5L2273.9,255.5L2273.0,253.8L2273.2,250.7L2272.3,249.2L2271.6,245.8L2271.2,242.1L2270.2,239.8L2268.6,241.2L2266.1,243.2L2264.8,242.9L2263.4,242.3L2264.1,238.6L2263.6,236.0L2261.8,232.6L2262.2,231.7L2260.9,231.1L2259.2,228.9L2258.6,227.4L2258.3,226.0L2257.9,224.5L2257.0,222.8L2254.9,222.8L2255.1,224.0L2254.4,225.7L2253.3,225.1L2251.5,225.0L2251.2,226.0L2249.6,226.0L2246.9,226.6L2246.9,228.9L2245.7,230.3L2242.5,232.3L2239.8,235.7L2238.2,237.5L2235.9,239.5L2235.9,240.6L2234.7,241.5L2232.7,242.5L2231.5,242.6L2230.8,244.9L2231.3,248.7L2231.5,250.9L2230.6,253.5L2230.6,258.4L2229.2,258.7L2228.3,260.7L2229.0,261.9L2226.9,262.7L2226.0,264.4L2225.1,265.4L2223.0,262.7L2221.9,258.7L2221.0,255.8L2220.3,254.4L2219.1,251.8L2218.5,248.1L2218.0,246.4L2215.9,242.3L2215.0,236.9L2214.3,233.2L2214.3,229.7L2213.9,226.8L2210.7,228.6L2209.1,228.3L2206.1,224.8L2207.0,223.7L2206.3,222.8L2203.8,220.2L2202.0,219.7L2201.3,217.4L2199.7,215.4L2195.3,215.9L2191.6,215.9L2188.4,216.2L2184.1,215.4L2181.6,214.8L2179.0,214.5L2178.1,210.9L2177.0,210.5L2175.1,210.9L2172.9,212.2L2170.1,211.3L2167.8,209.1L2165.5,208.2L2164.1,205.6L2162.3,201.9L2161.2,202.2L2159.6,201.3L2158.9,202.5L2157.4,202.2L2158.0,203.6L2157.7,204.2L2158.4,206.2L2159.3,208.8L2160.5,209.3L2160.9,210.5L2162.5,211.6L2162.3,213.9L2162.5,214.8L2163.2,215.7L2163.9,217.2L2165.1,217.7L2165.8,215.9L2165.8,214.2L2165.1,213.4L2165.8,218.7L2166.7,219.7L2171.2,219.1L2172.9,217.1L2174.5,215.4L2176.1,213.4L2176.8,212.5L2177.0,212.8L2176.8,213.9L2176.5,214.5L2176.8,216.8L2177.7,218.8L2179.0,219.7L2180.6,220.2L2182.0,220.5L2183.9,223.1L2184.5,223.7L2184.5,224.3L2183.4,226.8L2182.5,227.7L2181.6,229.7L2180.4,229.4L2180.0,230.3L2179.7,231.7L2180.0,233.4L2179.7,234.0L2178.6,234.0L2177.2,234.9L2177.0,236.3L2176.5,236.9L2175.1,236.9L2174.2,237.7L2174.2,238.9L2173.1,239.6L2171.7,239.5L2170.3,240.3L2169.2,240.5L2167.6,241.2L2167.1,242.6L2167.1,243.5L2164.8,244.6L2161.2,246.1L2159.1,248.1L2158.0,248.4L2157.3,248.1L2156.1,249.2L2154.5,249.8L2152.7,250.1L2152.0,250.1L2151.5,250.9L2150.9,251.1L2150.6,251.8L2149.5,251.8L2148.8,252.1L2147.2,252.1L2146.5,250.4L2146.7,248.7L2146.3,247.8L2145.8,245.8L2145.1,244.6L2145.6,244.3L2145.4,243.2L2145.6,242.6L2145.6,241.5L2145.1,240.0L2144.4,239.2L2144.4,238.0L2143.3,237.2L2141.9,234.6L2141.2,232.3L2139.6,230.3L2138.7,230.0L2137.1,227.1L2136.9,223.4L2135.7,220.2L2134.6,219.1L2133.4,218.5L2132.8,216.8L2132.8,216.2L2132.1,214.8L2131.4,214.2L2130.5,211.9L2129.1,209.6L2127.9,207.6L2126.8,207.6L2127.2,206.2L2127.6,203.9L2126.1,198.7L2126.8,197.9L2127.5,194.1L2127.9,193.3L2128.9,191.0L2130.0,189.0L2129.8,186.7L2130.2,185.5L2129.5,184.1L2130.5,183.1L2129.0,183.2L2127.0,182.7L2125.4,184.4L2122.0,184.7L2120.1,183.2L2117.6,182.9L2117.2,184.1L2115.6,184.7L2113.3,182.9L2110.8,182.9L2109.4,180.1L2107.8,178.6L2108.9,176.3L2107.5,174.9L2107.5,173.2L2108.5,171.8L2107.1,171.2L2105.7,170.9L2104.6,170.9L2101.8,171.5L2103.4,173.2L2102.3,173.6L2100.9,173.6L2099.8,172.0L2099.3,172.6L2099.8,174.3L2100.9,175.8L2100.1,176.4L2101.4,177.8L2102.5,178.6L2102.5,180.1L2100.4,179.5L2101.1,180.9L2099.8,181.2L2100.7,183.8L2099.1,183.8L2097.2,182.7L2096.3,180.4L2095.9,178.4L2094.9,176.9L2093.8,175.5L2093.8,174.6L2093.3,174.3L2093.2,173.8L2092.0,172.8L2091.7,171.5L2092.0,168.0L2090.8,166.9L2089.8,166.3L2087.6,165.3L2086.2,164.3L2084.2,163.4L2082.3,161.4L2082.8,161.1L2081.6,160.0L2081.6,158.8L2080.3,158.6L2079.5,159.7L2078.9,158.8L2079.1,157.4L2077.5,157.1L2076.4,157.7L2075.7,158.0L2075.9,159.4L2075.7,160.3L2076.4,161.7L2078.4,163.1L2079.6,165.4L2082.1,167.9L2083.9,167.8L2084.6,168.6L2083.9,169.2L2087.1,170.6L2089.7,172.3L2089.9,172.9L2089.4,174.0L2088.1,172.6L2086.2,172.3L2085.1,174.0L2086.9,175.2L2086.7,176.6L2085.5,176.9L2084.4,179.2L2083.5,179.5L2083.5,178.6L2083.9,177.1L2084.4,176.3L2082.8,173.3L2081.9,172.9L2081.2,171.8L2079.8,171.2L2078.7,170.0L2077.1,169.7L2075.2,168.6L2073.2,166.6L2071.6,165.2L2070.9,162.3L2069.7,161.9L2067.9,160.8L2066.8,161.4L2065.5,162.6L2064.5,162.9L2062.4,164.6L2058.0,163.7L2054.6,164.6L2054.4,166.3L2054.8,168.0L2052.3,170.0L2049.3,170.6L2047.7,173.2L2046.8,175.5L2047.7,177.2L2046.4,178.4L2045.9,180.4L2044.3,180.9L2042.7,182.9L2037.4,182.9L2036.0,184.1L2035.1,185.1ZM1209.0,185.5L1210.6,185.7L1212.0,187.0L1214.2,186.7L1216.5,187.2L1217.5,187.2L1219.8,185.8L1222.3,185.2L1223.6,184.1L1225.9,183.2L1229.8,182.7L1233.5,182.4L1234.6,182.9L1236.9,181.8L1239.2,181.8L1240.1,182.4L1241.8,182.4L1244.3,181.2L1245.9,181.5L1245.9,182.9L1247.7,181.8L1247.9,182.4L1246.8,183.8L1246.8,185.2L1247.5,185.8L1247.2,188.4L1245.6,189.8L1246.1,191.3L1247.5,191.3L1247.9,192.7L1248.9,193.3L1251.6,194.1L1252.5,193.8L1254.4,194.4L1257.3,195.6L1258.5,198.1L1260.5,198.7L1263.8,199.9L1266.3,201.3L1267.4,200.7L1268.6,199.3L1267.9,197.0L1268.6,195.9L1270.4,194.4L1271.8,194.1L1275.0,194.7L1275.7,195.9L1276.6,195.9L1277.3,196.4L1279.6,196.7L1280.2,197.6L1283.2,197.6L1285.5,198.4L1287.8,199.3L1288.7,199.6L1290.6,198.7L1291.5,197.9L1293.5,197.6L1295.1,198.1L1295.8,199.6L1296.3,198.4L1300.0,199.3L1301.1,198.7L1302.6,203.9L1301.8,206.2L1300.9,208.5L1299.5,207.0L1297.2,202.5L1296.8,202.7L1297.4,205.9L1298.8,207.6L1300.2,210.8L1300.6,213.4L1301.6,214.8L1302.7,217.7L1303.9,220.0L1303.9,222.0L1306.6,224.5L1307.1,225.2L1307.8,228.0L1307.5,231.4L1308.4,234.9L1310.5,236.6L1311.9,240.0L1312.6,242.6L1313.7,244.1L1316.9,246.6L1320.1,250.9L1321.3,251.8L1321.7,252.7L1321.7,253.9L1320.4,254.7L1321.3,255.3L1322.2,255.8L1322.6,257.0L1323.6,258.4L1324.7,258.4L1327.0,257.5L1329.3,257.3L1331.4,256.4L1333.4,255.5L1334.6,255.5L1335.5,255.5L1336.4,255.0L1337.8,254.7L1338.7,253.8L1339.6,253.8L1339.6,254.7L1339.4,256.1L1339.4,257.8L1338.9,258.7L1338.5,261.9L1337.3,265.0L1335.9,268.7L1333.9,273.0L1331.8,276.2L1329.3,279.9L1327.0,282.5L1323.6,285.1L1321.3,287.4L1318.8,290.8L1318.3,292.3L1316.5,294.0L1314.9,295.7L1314.4,297.7L1313.7,298.9L1313.2,300.6L1312.3,301.7L1311.2,305.2L1311.4,306.9L1312.8,307.8L1313.0,308.6L1312.3,310.3L1312.6,311.2L1312.3,312.6L1313.0,314.4L1313.9,317.2L1314.9,317.8L1315.3,319.2L1315.1,322.1L1315.5,324.4L1315.5,329.0L1316.0,330.4L1315.3,332.4L1314.4,334.4L1313.0,336.2L1310.7,337.3L1308.2,338.8L1305.7,341.9L1304.8,342.2L1303.2,344.5L1302.2,345.1L1302.0,347.1L1303.2,349.4L1303.6,350.8L1303.6,351.7L1304.1,351.7L1303.9,354.5L1303.6,355.7L1302.7,358.6L1300.9,359.4L1298.1,361.1L1297.2,362.0L1297.4,363.1L1297.9,363.4L1297.7,365.7L1297.0,369.5L1296.3,370.9L1294.7,372.3L1294.2,372.6L1293.3,374.0L1292.6,375.5L1291.5,377.5L1288.7,380.6L1287.1,382.4L1285.5,383.5L1283.0,384.7L1281.9,385.0L1281.6,385.5L1280.2,385.2L1279.1,385.8L1276.6,385.8L1274.3,385.5L1271.8,386.7L1269.9,387.0L1268.6,388.1L1267.4,388.1L1266.5,387.2L1265.8,387.0L1264.7,385.8L1264.7,386.1L1264.2,385.5L1264.4,383.8L1263.5,381.8L1264.2,381.2L1264.2,379.2L1262.8,376.3L1261.7,374.0L1259.9,370.3L1258.2,368.0L1257.3,366.0L1256.9,363.1L1256.2,361.1L1255.5,356.8L1255.5,353.4L1255.3,351.7L1254.4,350.5L1253.2,348.2L1251.8,344.8L1251.4,342.8L1249.5,340.2L1249.3,337.9L1249.1,336.2L1249.5,333.6L1250.2,331.0L1250.5,329.6L1251.1,327.0L1251.6,325.8L1253.0,324.1L1253.7,322.7L1253.9,320.7L1253.9,319.0L1253.2,318.1L1252.5,316.4L1252.1,314.6L1252.1,314.0L1252.8,312.9L1252.1,310.1L1251.6,308.0L1250.5,306.3L1250.7,305.8L1250.5,304.9L1249.8,302.6L1247.9,299.7L1245.6,296.8L1244.0,294.3L1242.7,291.4L1242.7,290.5L1243.1,289.7L1243.8,287.4L1244.3,285.4L1243.8,284.8L1244.5,281.7L1245.0,279.4L1244.0,277.6L1242.9,277.1L1242.4,275.6L1242.0,275.3L1242.0,274.5L1239.7,275.6L1238.8,275.3L1237.9,276.2L1236.0,275.9L1234.9,274.2L1234.0,272.2L1232.4,270.2L1230.8,270.2L1228.7,270.2L1226.9,270.7L1225.0,271.3L1221.4,273.0L1220.0,273.9L1217.9,274.8L1215.9,273.9L1214.9,274.0L1213.3,273.3L1212.0,273.3L1209.2,273.9L1207.6,274.8L1205.3,275.9L1204.9,275.6L1204.2,275.6L1201.9,274.5L1199.8,272.2L1197.8,270.7L1196.4,268.7L1195.7,268.5L1194.1,267.3L1192.9,265.9L1192.5,264.7L1192.2,262.7L1191.1,261.0L1190.2,259.8L1189.0,259.0L1188.8,257.5L1188.6,257.0L1187.9,256.7L1186.5,255.3L1185.6,255.3L1185.1,254.4L1185.1,253.2L1184.5,253.2L1184.0,250.4L1184.2,249.2L1183.3,246.9L1182.2,246.1L1183.1,245.5L1184.2,243.5L1184.7,242.1L1185.6,239.5L1185.8,235.5L1185.1,233.4L1184.9,232.0L1185.1,230.6L1184.7,229.1L1183.3,228.0L1183.5,226.8L1183.6,225.4L1184.5,224.5L1185.1,223.1L1185.1,222.3L1185.9,220.2L1187.2,218.2L1187.9,217.9L1188.6,216.2L1189.5,212.8L1190.9,211.9L1192.5,209.1L1193.6,207.9L1195.7,207.6L1197.5,205.6L1198.7,204.7L1200.5,202.5L1200.0,198.7L1201.0,196.4L1201.2,194.7L1202.6,193.0L1204.9,191.5L1206.7,190.4L1208.3,187.5ZM2034.0,185.5L2035.6,185.7L2037.0,187.0L2039.2,186.7L2041.5,187.2L2042.5,187.2L2044.8,185.8L2047.3,185.2L2048.6,184.1L2050.9,183.2L2054.8,182.7L2058.5,182.4L2059.6,182.9L2061.9,181.8L2064.2,181.8L2065.1,182.4L2066.8,182.4L2069.3,181.2L2070.9,181.5L2070.9,182.9L2072.7,181.8L2072.9,182.4L2071.8,183.8L2071.8,185.2L2072.5,185.8L2072.2,188.4L2070.6,189.8L2071.1,191.3L2072.5,191.3L2072.9,192.7L2073.9,193.3L2076.6,194.1L2077.5,193.8L2079.4,194.4L2082.3,195.6L2083.5,198.1L2085.5,198.7L2088.8,199.9L2091.3,201.3L2092.4,200.7L2093.6,199.3L2092.9,197.0L2093.6,195.9L2095.4,194.4L2096.8,194.1L2100.0,194.7L2100.7,195.9L2101.6,195.9L2102.3,196.4L2104.6,196.7L2105.2,197.6L2108.2,197.6L2110.5,198.4L2112.8,199.3L2113.7,199.6L2115.6,198.7L2116.5,197.9L2118.5,197.6L2120.1,198.1L2120.8,199.6L2121.3,198.4L2125.0,199.3L2126.1,198.7L2127.6,203.9L2126.8,206.2L2125.9,208.5L2124.5,207.0L2122.2,202.5L2121.8,202.7L2122.4,205.9L2123.8,207.6L2125.2,210.8L2125.6,213.4L2126.6,214.8L2127.7,217.7L2128.9,220.0L2128.9,222.0L2131.6,224.5L2132.1,225.2L2132.8,228.0L2132.5,231.4L2133.4,234.9L2135.5,236.6L2136.9,240.0L2137.6,242.6L2138.7,244.1L2141.9,246.6L2145.1,250.9L2146.3,251.8L2146.7,252.7L2146.7,253.9L2145.4,254.7L2146.3,255.3L2147.2,255.8L2147.6,257.0L2148.6,258.4L2149.7,258.4L2152.0,257.5L2154.3,257.3L2156.4,256.4L2158.4,255.5L2159.6,255.5L2160.5,255.5L2161.4,255.0L2162.8,254.7L2163.7,253.8L2164.6,253.8L2164.6,254.7L2164.4,256.1L2164.4,257.8L2163.9,258.7L2163.5,261.9L2162.3,265.0L2160.9,268.7L2158.9,273.0L2156.8,276.2L2154.3,279.9L2152.0,282.5L2148.6,285.1L2146.3,287.4L2143.8,290.8L2143.3,292.3L2141.5,294.0L2139.9,295.7L2139.4,297.7L2138.7,298.9L2138.2,300.6L2137.3,301.7L2136.2,305.2L2136.4,306.9L2137.8,307.8L2138.0,308.6L2137.3,310.3L2137.6,311.2L2137.3,312.6L2138.0,314.4L2138.9,317.2L2139.9,317.8L2140.3,319.2L2140.1,322.1L2140.5,324.4L2140.5,329.0L2141.0,330.4L2140.3,332.4L2139.4,334.4L2138.0,336.2L2135.7,337.3L2133.2,338.8L2130.7,341.9L2129.8,342.2L2128.2,344.5L2127.2,345.1L2127.0,347.1L2128.2,349.4L2128.6,350.8L2128.6,351.7L2129.1,351.7L2128.9,354.5L2128.6,355.7L2127.7,358.6L2125.9,359.4L2123.1,361.1L2122.2,362.0L2122.4,363.1L2122.9,363.4L2122.7,365.7L2122.0,369.5L2121.3,370.9L2119.7,372.3L2119.2,372.6L2118.3,374.0L2117.6,375.5L2116.5,377.5L2113.7,380.6L2112.1,382.4L2110.5,383.5L2108.0,384.7L2106.9,385.0L2106.6,385.5L2105.2,385.2L2104.1,385.8L2101.6,385.8L2099.3,385.5L2096.8,386.7L2094.9,387.0L2093.6,388.1L2092.4,388.1L2091.5,387.2L2090.8,387.0L2089.7,385.8L2089.7,386.1L2089.2,385.5L2089.4,383.8L2088.5,381.8L2089.2,381.2L2089.2,379.2L2087.8,376.3L2086.7,374.0L2084.9,370.3L2083.2,368.0L2082.3,366.0L2081.9,363.1L2081.2,361.1L2080.5,356.8L2080.5,353.4L2080.3,351.7L2079.4,350.5L2078.2,348.2L2076.8,344.8L2076.4,342.8L2074.5,340.2L2074.3,337.9L2074.1,336.2L2074.5,333.6L2075.2,331.0L2075.5,329.6L2076.1,327.0L2076.6,325.8L2078.0,324.1L2078.7,322.7L2078.9,320.7L2078.9,319.0L2078.2,318.1L2077.5,316.4L2077.1,314.6L2077.1,314.0L2077.8,312.9L2077.1,310.1L2076.6,308.0L2075.5,306.3L2075.7,305.8L2075.5,304.9L2074.8,302.6L2072.9,299.7L2070.6,296.8L2069.0,294.3L2067.7,291.4L2067.7,290.5L2068.1,289.7L2068.8,287.4L2069.3,285.4L2068.8,284.8L2069.5,281.7L2070.0,279.4L2069.0,277.6L2067.9,277.1L2067.4,275.6L2067.0,275.3L2067.0,274.5L2064.7,275.6L2063.8,275.3L2062.9,276.2L2061.0,275.9L2059.9,274.2L2059.0,272.2L2057.4,270.2L2055.8,270.2L2053.7,270.2L2051.9,270.7L2050.0,271.3L2046.4,273.0L2045.0,273.9L2042.9,274.8L2040.9,273.9L2039.9,274.0L2038.3,273.3L2037.0,273.3L2034.2,273.9L2032.6,274.8L2030.3,275.9L2029.9,275.6L2029.2,275.6L2026.9,274.5L2024.8,272.2L2022.8,270.7L2021.4,268.7L2020.7,268.5L2019.1,267.3L2017.9,265.9L2017.5,264.7L2017.2,262.7L2016.1,261.0L2015.2,259.8L2014.0,259.0L2013.8,257.5L2013.6,257.0L2012.9,256.7L2011.5,255.3L2010.6,255.3L2010.1,254.4L2010.1,253.2L2009.5,253.2L2009.0,250.4L2009.2,249.2L2008.3,246.9L2007.2,246.1L2008.1,245.5L2009.2,243.5L2009.7,242.1L2010.6,239.5L2010.8,235.5L2010.1,233.4L2009.9,232.0L2010.1,230.6L2009.7,229.1L2008.3,228.0L2008.5,226.8L2008.6,225.4L2009.5,224.5L2010.1,223.1L2010.1,222.3L2010.9,220.2L2012.2,218.2L2012.9,217.9L2013.6,216.2L2014.5,212.8L2015.9,211.9L2017.5,209.1L2018.6,207.9L2020.7,207.6L2022.5,205.6L2023.7,204.7L2025.5,202.5L2025.0,198.7L2026.0,196.4L2026.2,194.7L2027.6,193.0L2029.9,191.5L2031.7,190.4L2033.3,187.5ZM1335.9,324.1L1336.6,325.3L1337.2,327.3L1337.5,330.7L1338.2,331.9L1338.0,333.3L1337.5,334.2L1336.6,336.7L1335.9,337.3L1335.7,339.9L1334.8,343.1L1333.6,347.1L1332.3,352.5L1331.4,356.5L1330.4,359.7L1328.6,360.6L1326.5,361.7L1325.2,360.8L1323.3,360.0L1322.9,358.6L1322.6,356.0L1321.7,353.7L1321.7,351.7L1322.0,349.4L1323.1,349.1L1323.1,347.9L1324.2,345.9L1324.5,343.9L1323.8,342.7L1323.3,340.8L1323.3,338.2L1324.0,336.7L1324.2,334.7L1325.4,334.7L1326.8,334.1L1327.7,333.6L1328.6,333.6L1330.0,331.9L1331.8,330.1L1332.5,328.7L1332.3,327.6L1333.2,327.8L1334.3,325.8L1334.6,324.1L1335.2,322.7ZM1215.6,120.1L1213.1,123.0L1215.4,122.7L1218.0,122.7L1217.5,125.0L1215.4,127.6L1217.7,127.8L1220.0,131.6L1221.6,131.9L1223.0,135.3L1223.6,136.5L1226.4,137.0L1226.2,138.8L1224.9,139.6L1225.7,141.0L1223.9,142.5L1220.7,142.5L1216.8,143.3L1215.7,142.8L1214.2,144.2L1212.2,143.9L1210.6,144.9L1209.2,144.2L1212.6,141.3L1214.7,140.8L1211.1,140.2L1210.4,139.0L1212.9,138.2L1211.5,136.7L1212.0,134.7L1215.4,135.0L1215.9,133.3L1214.2,131.6L1211.5,131.0L1210.8,130.1L1211.7,129.0L1210.9,128.1L1209.7,129.6L1209.7,126.7L1208.5,125.3L1209.2,122.4L1211.0,120.1L1212.9,120.1ZM2040.6,120.1L2038.1,123.0L2040.4,122.7L2043.0,122.7L2042.5,125.0L2040.4,127.6L2042.7,127.8L2045.0,131.6L2046.6,131.9L2048.0,135.3L2048.6,136.5L2051.4,137.0L2051.2,138.8L2049.9,139.6L2050.7,141.0L2048.9,142.5L2045.7,142.5L2041.8,143.3L2040.7,142.8L2039.2,144.2L2037.2,143.9L2035.6,144.9L2034.2,144.2L2037.6,141.3L2039.7,140.8L2036.1,140.2L2035.4,139.0L2037.9,138.2L2036.5,136.7L2037.0,134.7L2040.4,135.0L2040.9,133.3L2039.2,131.6L2036.5,131.0L2035.8,130.1L2036.7,129.0L2035.9,128.1L2034.7,129.6L2034.7,126.7L2033.5,125.3L2034.2,122.4L2036.0,120.1L2037.9,120.1ZM2033.3,133.6L2033.8,135.6L2031.9,138.2L2027.8,139.9L2024.6,139.6L2026.4,136.5L2025.3,133.6L2028.5,131.3L2030.1,130.1L2032.1,129.9L2034.4,131.6ZM1259.2,68.5L1266.0,65.6L1274.1,62.7L1284.4,60.4L1277.5,59.0L1268.3,60.4L1262.6,63.9ZM1269.5,59.8L1274.1,57.8L1284.4,58.4L1279.8,60.1ZM1344.0,85.1L1342.1,83.1L1342.8,80.2L1345.1,77.3L1348.5,74.2L1352.0,71.9L1357.7,69.6L1364.6,68.2L1373.8,67.3L1379.5,67.4L1376.0,69.6L1368.0,71.3L1361.1,73.6L1356.6,76.5L1353.1,79.4L1350.8,82.2L1354.3,85.4L1348.5,85.7ZM1436.8,60.1L1443.6,61.9L1451.7,62.7L1462.0,63.3L1460.8,60.7L1452.8,58.1L1444.8,56.1L1437.9,57.0L1433.3,58.1ZM1535.3,72.5L1541.0,74.2L1546.8,75.9L1553.6,75.1L1558.2,72.5L1566.2,72.8L1567.4,71.3L1560.5,70.2L1550.2,70.5L1542.2,69.9L1537.6,70.5ZM1631.6,83.9L1635.0,84.9L1639.6,84.5L1637.3,83.1L1632.7,82.8ZM1547.7,156.3L1548.1,156.5L1551.4,156.0L1549.3,151.4L1550.9,146.8L1553.9,147.9L1550.7,139.6L1551.6,135.3L1549.3,132.2L1547.0,138.5L1548.4,147.4L1547.9,151.1ZM1546.5,169.5L1552.3,165.2L1555.9,164.0L1555.5,160.8L1552.3,161.4L1547.8,157.5L1545.9,162.3L1544.0,164.0L1544.5,166.0ZM1545.4,169.2L1547.7,173.5L1547.9,175.8L1545.4,178.6L1545.5,181.8L1544.7,184.1L1545.2,185.5L1544.0,187.5L1541.0,188.7L1536.9,189.0L1533.7,192.1L1532.1,189.0L1528.0,189.5L1525.5,191.0L1522.7,191.0L1525.0,187.8L1527.3,186.1L1533.5,186.4L1535.8,181.2L1537.4,182.7L1540.8,179.8L1542.0,178.6L1543.4,175.2L1543.1,171.8L1544.0,170.0ZM1519.0,192.7L1521.3,191.8L1524.8,193.0L1523.9,198.1L1522.0,199.3L1520.9,198.1L1521.1,195.6L1520.0,194.7ZM1526.1,192.7L1529.4,189.5L1531.0,190.1L1531.4,191.3L1530.0,193.0L1528.0,192.7L1527.1,194.4ZM1501.6,218.2L1501.9,216.5L1500.2,216.2L1498.0,220.5L1499.1,225.1L1500.9,223.1ZM1471.4,232.6L1473.4,236.0L1476.0,235.5L1476.9,231.7L1475.0,230.6ZM1498.9,235.2L1502.8,235.2L1503.2,239.2L1501.2,242.6L1501.4,247.2L1507.1,248.7L1506.9,252.4L1505.1,250.9L1503.2,248.4L1499.8,248.9L1498.9,246.9L1497.5,245.2L1497.3,241.2L1498.2,242.3L1498.4,237.7ZM1502.1,268.2L1505.8,265.9L1507.4,264.7L1509.9,260.1L1511.7,261.6L1512.6,267.6L1511.2,269.9L1509.9,272.2L1507.1,270.5L1506.4,267.6L1503.9,267.0ZM1507.4,252.4L1510.6,253.5L1510.1,256.7L1509.0,259.6L1508.3,258.7L1507.6,255.8ZM1501.9,254.1L1504.6,256.1L1505.5,258.1L1504.8,262.1L1503.2,259.8L1502.1,258.1ZM1491.1,264.1L1496.6,258.1L1496.4,255.5L1494.1,260.1ZM1498.2,249.5L1500.9,250.9L1500.2,253.2L1498.6,251.8ZM1473.7,282.5L1472.5,285.4L1472.3,287.1L1472.5,289.7L1475.0,293.1L1474.6,296.6L1478.5,296.9L1481.5,297.4L1484.9,298.3L1488.6,299.7L1489.5,295.4L1488.8,293.4L1491.8,290.5L1491.8,288.0L1492.0,284.8L1494.8,284.2L1492.7,281.1L1492.7,276.5L1494.3,275.3L1495.7,272.8L1492.2,269.9L1490.6,268.2L1488.8,270.7L1487.2,272.8L1486.0,274.2L1483.5,275.6L1481.5,279.4L1478.5,280.2L1476.9,282.8ZM1440.9,272.5L1445.9,273.3L1448.0,275.9L1451.0,279.1L1453.0,282.2L1455.6,282.2L1458.8,285.4L1460.1,288.0L1460.8,291.4L1461.8,291.4L1462.9,294.8L1464.5,296.9L1465.6,297.1L1465.0,300.6L1465.0,305.0L1462.4,305.2L1460.6,302.6L1457.6,300.3L1456.7,298.6L1454.9,296.3L1453.7,294.3L1451.9,290.1L1450.1,287.7L1449.3,285.3L1448.5,283.1L1446.4,281.1L1445.2,278.8L1443.4,277.1L1441.1,274.0ZM1465.6,305.2L1468.4,305.4L1471.1,306.6L1471.4,307.8L1475.7,308.0L1476.4,306.9L1480.5,308.0L1481.4,310.1L1484.9,310.6L1487.6,312.4L1485.1,313.4L1482.6,312.1L1480.5,312.4L1478.0,312.1L1476.0,311.5L1473.2,310.3L1471.6,310.1L1470.7,310.6L1466.6,309.5L1466.1,308.0L1464.0,307.9ZM1506.7,314.9L1509.2,313.2L1514.2,312.4L1512.6,313.8L1509.2,315.2L1506.7,317.5ZM1497.3,312.4L1504.1,311.5L1503.9,312.9L1500.5,313.8L1497.3,313.5ZM1490.4,312.6L1495.4,312.4L1495.2,313.8L1490.2,314.1ZM1494.8,295.7L1495.7,298.3L1496.4,303.7L1498.4,304.0L1498.4,296.9L1499.8,295.7L1501.2,300.3L1504.1,302.0L1502.8,298.3L1500.5,293.7L1504.8,290.8L1502.5,289.4L1499.8,290.8L1499.3,287.1L1506.0,287.4L1507.8,287.1L1509.4,284.2L1507.6,285.4L1499.6,284.5L1498.0,287.7L1497.0,287.7L1495.4,291.1ZM1515.6,281.9L1517.4,285.4L1516.3,287.4L1517.9,290.3L1514.9,289.1L1515.1,285.4ZM1515.8,298.0L1522.2,297.7L1521.3,299.4L1516.3,298.6ZM1522.7,292.0L1525.7,289.4L1529.8,290.8L1530.5,296.3L1533.0,298.0L1537.4,293.1L1539.4,293.1L1543.1,295.1L1545.6,295.7L1553.9,299.4L1555.5,300.9L1556.6,304.0L1560.8,305.8L1561.4,307.2L1559.3,307.5L1559.8,309.5L1561.9,311.2L1563.3,314.4L1564.6,314.4L1564.6,315.5L1566.2,316.1L1565.6,316.7L1568.1,317.8L1566.2,319.0L1565.8,318.1L1563.7,317.8L1561.4,317.2L1559.6,315.5L1558.5,313.8L1557.1,311.5L1554.1,310.1L1552.3,310.9L1550.9,311.8L1551.1,314.1L1549.3,314.9L1548.1,314.6L1545.6,314.4L1541.3,311.5L1540.8,312.4L1537.8,312.4L1538.8,310.1L1540.4,309.2L1539.7,306.0L1538.5,303.7L1534.2,301.2L1532.3,301.2L1528.9,298.3L1528.2,299.7L1527.2,300.0L1526.8,298.9L1526.8,297.7L1525.0,296.3L1527.5,295.4L1529.1,295.4L1528.9,294.6L1525.5,294.6L1524.5,292.8L1522.5,292.3ZM1562.4,304.3L1566.2,303.5L1569.5,300.3L1571.5,300.6L1570.8,304.0L1566.7,306.3L1563.3,305.8ZM1405.6,260.1L1407.7,261.6L1410.0,266.7L1409.5,269.6L1406.5,271.1L1405.6,268.7L1405.1,264.7ZM1242.4,170.9L1245.0,172.0L1244.7,175.8L1243.6,175.8L1241.8,176.3L1241.8,172.3ZM1244.5,167.2L1244.0,164.9L1242.4,166.0L1242.7,168.9L1244.0,169.5ZM1258.0,178.6L1257.1,183.2L1250.9,180.4L1251.4,178.9L1253.9,179.2ZM1276.8,185.8L1278.0,186.7L1281.6,186.7L1282.8,187.0L1279.8,188.1L1276.4,187.0ZM1297.4,187.5L1296.5,189.0L1300.2,187.9L1301.8,185.8L1299.3,187.0L1297.9,186.7ZM1481.9,351.4L1484.2,350.8L1489.5,347.6L1495.2,345.6L1499.8,344.2L1502.8,339.9L1505.5,337.0L1509.0,331.3L1512.4,328.4L1516.1,331.6L1519.3,330.7L1520.9,326.1L1522.2,323.8L1526.1,321.2L1529.6,322.7L1533.9,323.3L1536.0,323.3L1533.7,327.0L1533.0,331.3L1536.5,334.2L1541.7,338.2L1545.2,338.2L1546.8,331.3L1547.0,324.1L1549.1,319.0L1551.4,324.1L1551.6,328.4L1555.5,331.3L1555.9,336.5L1557.5,342.8L1563.5,346.8L1566.2,352.0L1568.5,355.7L1573.1,360.8L1574.3,369.2L1573.1,377.2L1569.7,382.9L1567.6,389.3L1566.2,395.9L1562.1,396.7L1557.8,400.4L1554.3,397.9L1551.4,399.6L1545.6,397.3L1542.9,395.3L1542.2,391.0L1539.9,390.4L1539.2,387.2L1537.8,382.9L1537.4,387.5L1534.2,388.1L1532.3,387.5L1532.6,383.8L1530.0,381.8L1525.0,380.1L1518.1,378.9L1511.2,380.9L1506.7,382.9L1502.1,385.8L1497.5,385.5L1492.9,388.7L1488.3,388.7L1486.0,386.4L1487.4,384.1L1487.6,378.6L1486.0,372.9L1484.0,367.2L1482.4,362.9L1483.3,357.1L1482.4,356.0ZM1553.9,405.0L1562.4,405.6L1562.4,409.3L1559.4,413.1L1557.1,413.1L1555.2,409.3ZM1618.3,387.0L1621.9,389.3L1625.6,395.3L1631.6,396.4L1630.2,400.7L1627.9,401.9L1625.8,406.8L1623.1,406.8L1624.0,404.5L1621.9,401.9L1620.8,400.7L1622.6,398.4L1622.6,394.4L1620.1,390.1ZM1618.3,404.5L1621.9,406.5L1621.7,408.2L1619.6,411.6L1618.5,413.9L1615.1,415.4L1613.5,419.7L1610.5,422.0L1604.1,420.2L1604.8,418.2L1608.2,414.5L1613.2,411.6L1615.5,408.2L1616.9,405.3ZM1598.3,345.9L1600.6,347.1L1605.4,352.0L1604.5,352.5L1601.8,350.5L1598.8,346.8ZM1662.3,99.7L1665.5,98.6L1670.5,97.1L1672.4,97.1L1672.1,98.6L1676.9,98.6L1675.1,96.9L1672.4,95.7L1670.8,94.3L1668.5,93.1L1665.2,92.0L1666.6,90.5L1670.8,90.5L1673.5,89.1L1674.2,87.7L1676.5,86.5L1678.8,86.2L1683.1,84.8L1685.2,85.1L1688.6,83.4L1692.1,84.2L1693.9,85.4L1694.8,84.8L1698.7,85.1L1698.5,85.7L1702.1,86.2L1704.4,86.0L1709.2,86.8L1713.6,87.1L1715.4,87.4L1718.4,86.8L1721.9,87.7L1724.4,88.2L1728.7,88.8L1732.4,90.3L1734.7,90.5L1736.8,89.4L1739.5,88.5L1742.9,88.8L1746.4,87.7L1750.0,86.8L1751.6,88.0L1753.2,87.4L1753.9,86.0L1755.5,86.2L1759.2,88.8L1762.4,86.8L1762.6,89.1L1765.4,88.5L1766.3,87.7L1769.1,88.0L1772.7,89.1L1778.0,90.3L1781.2,90.8L1783.5,90.5L1786.5,92.0L1783.3,93.4L1787.4,94.0L1793.6,93.7L1795.6,93.2L1797.9,94.8L1800.5,93.4L1798.2,92.3L1799.5,91.1L1802.4,91.1L1804.1,90.8L1806.2,91.4L1808.5,93.1L1811.0,92.8L1814.9,94.3L1818.6,93.7L1822.0,93.7L1821.5,92.0L1823.6,91.4L1827.3,92.6L1827.3,95.1L1828.6,92.8L1830.5,92.8L1831.6,90.0L1829.1,88.2L1826.4,87.1L1826.6,83.9L1829.3,81.9L1832.3,82.2L1834.6,83.7L1837.8,86.8L1835.8,88.2L1840.1,88.8L1839.9,91.7L1843.1,89.4L1845.8,91.4L1845.1,93.4L1847.2,95.4L1849.7,93.4L1851.3,90.8L1851.6,87.7L1854.8,88.0L1858.2,88.2L1861.2,89.7L1861.4,91.1L1859.7,92.8L1861.2,94.3L1861.0,95.7L1856.6,97.7L1853.4,98.0L1850.9,97.1L1850.2,98.6L1848.1,101.2L1847.4,102.3L1844.7,104.3L1841.5,104.6L1839.6,105.8L1839.4,107.6L1836.9,108.0L1833.9,110.3L1831.6,113.5L1830.7,115.8L1830.5,119.1L1833.9,119.5L1834.8,122.4L1836.0,124.4L1839.2,123.8L1843.5,125.0L1845.8,126.1L1847.4,127.6L1850.2,128.4L1852.7,129.6L1856.4,129.9L1858.9,130.1L1858.7,132.4L1859.4,135.3L1861.0,138.5L1864.4,141.3L1866.2,140.5L1867.4,137.3L1866.2,133.0L1864.6,131.3L1868.3,130.1L1870.8,128.1L1872.2,126.1L1872.0,124.1L1870.4,121.5L1867.6,119.5L1870.4,116.4L1869.2,113.8L1868.5,109.5L1870.1,108.6L1874.0,109.5L1876.3,109.8L1878.4,109.2L1880.4,110.1L1883.2,111.8L1883.9,112.9L1888.0,112.9L1888.0,115.5L1888.7,119.1L1890.8,119.5L1892.6,121.2L1895.8,119.5L1898.1,116.4L1899.5,115.2L1901.3,117.8L1904.3,121.2L1906.8,124.8L1905.9,126.7L1908.9,128.1L1910.9,129.9L1914.6,130.7L1916.2,131.6L1917.1,133.9L1918.7,134.4L1919.6,135.3L1919.9,138.8L1916.6,140.8L1912.8,141.6L1910.0,144.2L1906.1,144.5L1901.1,143.9L1897.6,143.9L1895.3,144.2L1893.5,146.2L1890.5,147.4L1887.2,151.4L1884.6,154.0L1886.4,153.4L1890.1,149.7L1894.9,147.4L1898.3,147.1L1900.4,148.5L1898.3,150.2L1899.0,153.4L1899.7,155.7L1902.7,157.1L1906.6,156.5L1908.9,153.4L1910.5,156.5L1907.7,158.3L1902.4,160.0L1900.4,161.1L1897.6,163.4L1896.0,163.1L1895.8,160.6L1899.9,158.3L1896.2,158.3L1893.7,158.8L1891.7,161.1L1889.1,162.1L1886.9,162.9L1885.5,164.6L1885.2,166.9L1885.9,168.3L1886.9,168.3L1886.6,167.4L1887.3,168.0L1885.7,169.2L1882.7,169.7L1880.4,170.0L1878.6,170.9L1877.9,171.8L1877.2,172.0L1878.0,172.3L1877.5,174.3L1875.9,176.6L1874.5,174.9L1874.9,176.5L1875.4,178.1L1874.7,179.3L1873.6,181.5L1873.3,182.4L1874.0,186.1L1872.4,188.4L1870.1,189.3L1868.5,191.0L1867.4,191.0L1866.2,192.1L1866.0,193.0L1863.5,195.0L1862.1,196.4L1861.2,198.1L1860.7,200.2L1861.2,202.2L1861.9,204.5L1863.0,206.5L1863.0,207.9L1863.9,211.1L1863.9,213.1L1863.9,214.2L1863.2,215.9L1862.6,216.2L1861.4,215.9L1861.2,214.8L1860.3,213.9L1859.1,211.6L1858.0,209.3L1857.5,208.2L1858.0,206.2L1857.5,204.7L1855.7,202.5L1854.8,201.9L1852.5,203.3L1852.0,203.0L1850.9,201.6L1849.5,201.0L1847.0,201.3L1844.9,201.0L1843.1,201.3L1842.2,201.6L1842.6,202.5L1842.6,203.6L1843.1,204.2L1842.6,204.5L1841.7,204.2L1840.8,204.7L1839.2,204.7L1837.6,203.0L1835.5,203.3L1833.9,202.7L1832.5,203.0L1830.5,203.6L1828.4,205.9L1826.1,207.0L1825.0,208.5L1824.3,209.6L1824.3,211.6L1824.8,213.9L1824.1,216.5L1823.6,218.5L1823.4,222.5L1823.6,225.4L1824.3,226.8L1824.8,229.1L1826.4,231.1L1826.8,232.9L1827.7,234.3L1830.2,234.9L1831.2,236.3L1833.2,235.5L1834.8,235.2L1836.7,234.6L1838.0,234.0L1839.4,232.9L1840.1,231.1L1840.1,228.9L1840.6,228.0L1842.2,227.1L1844.7,226.6L1846.5,226.6L1847.9,226.6L1848.6,227.1L1848.6,228.6L1847.2,230.0L1846.8,232.0L1847.2,232.3L1846.3,235.7L1845.6,235.2L1845.1,235.2L1845.1,237.7L1845.4,238.0L1845.1,239.2L1844.9,240.9L1844.5,241.5L1843.8,242.6L1844.5,243.2L1845.6,243.2L1846.1,242.6L1846.8,242.6L1848.4,242.9L1849.5,242.9L1851.1,242.5L1851.8,242.6L1852.8,242.3L1854.1,242.9L1855.5,244.1L1856.4,244.3L1857.1,245.2L1856.6,246.1L1856.8,247.2L1856.1,249.2L1856.1,251.2L1855.9,253.0L1855.7,255.0L1855.2,255.5L1855.5,256.4L1856.4,258.4L1857.3,259.6L1858.4,260.7L1859.1,261.9L1860.3,262.4L1861.0,263.0L1862.1,262.7L1863.0,262.1L1864.4,261.6L1865.1,260.7L1866.5,260.7L1867.6,261.3L1868.5,261.9L1870.1,263.3L1870.6,265.6L1869.2,266.4L1868.3,266.7L1867.8,265.0L1867.1,264.7L1866.2,265.3L1865.1,262.7L1864.2,264.7L1863.2,267.3L1862.1,267.6L1861.6,265.9L1860.7,265.3L1858.7,264.4L1857.5,265.0L1856.1,264.1L1855.7,263.3L1855.9,262.1L1854.3,261.0L1853.6,260.7L1852.8,259.3L1851.1,259.8L1851.1,257.3L1850.6,256.4L1849.3,254.4L1847.7,252.4L1847.0,251.2L1846.8,250.7L1846.1,250.4L1844.7,250.4L1842.9,249.5L1841.0,248.9L1839.2,248.4L1837.4,247.8L1836.2,246.6L1833.5,243.5L1832.3,242.6L1830.5,241.8L1829.1,242.1L1827.3,242.9L1826.1,243.2L1824.5,242.6L1822.9,242.1L1820.9,240.6L1819.0,240.3L1816.5,238.9L1814.4,237.7L1814.0,236.9L1812.6,236.7L1810.3,235.7L1809.4,234.6L1806.9,232.9L1805.7,231.1L1805.3,229.7L1806.2,229.7L1806.2,227.7L1805.5,225.4L1805.3,224.3L1804.6,222.8L1802.5,220.0L1800.2,217.9L1799.1,215.9L1797.0,214.8L1796.8,214.2L1797.0,212.5L1795.9,211.6L1794.5,210.2L1794.0,208.2L1792.7,208.2L1791.3,206.5L1790.4,205.0L1790.1,204.2L1789.0,202.2L1788.1,199.9L1788.3,198.7L1786.5,197.6L1785.8,197.9L1784.4,197.0L1784.2,198.1L1784.6,201.6L1785.6,202.7L1787.2,204.7L1787.6,205.6L1788.3,206.8L1788.6,206.8L1789.0,208.5L1789.7,209.3L1790.4,210.2L1791.8,211.6L1792.4,214.5L1793.1,215.7L1793.8,217.1L1793.8,218.5L1795.0,218.5L1795.9,220.0L1796.8,221.1L1796.8,221.7L1795.6,222.8L1795.4,222.8L1794.7,221.1L1793.4,219.4L1791.5,217.9L1790.4,217.4L1790.6,215.1L1790.1,213.6L1787.4,211.3L1787.2,211.9L1786.7,211.1L1785.1,210.5L1783.7,208.8L1784.9,208.8L1785.8,207.6L1785.8,206.2L1784.2,204.2L1782.8,203.3L1781.9,201.6L1781.0,199.9L1780.1,197.6L1779.1,195.0L1778.7,193.6L1777.3,191.8L1776.2,191.5L1775.9,190.7L1774.6,190.4L1773.9,189.8L1771.6,189.5L1771.1,189.0L1770.9,187.2L1768.6,184.4L1766.8,180.4L1766.8,179.8L1765.6,179.2L1764.0,176.5L1763.6,174.0L1762.4,172.6L1762.9,170.3L1762.9,167.7L1762.2,165.4L1763.1,162.9L1763.6,157.7L1763.1,153.7L1762.4,151.4L1761.7,149.9L1762.0,149.4L1765.4,150.4L1766.5,153.1L1767.2,152.2L1766.1,147.6L1765.7,147.6L1761.3,144.8L1759.7,143.6L1755.5,142.5L1754.2,139.9L1754.4,138.2L1751.6,136.7L1751.2,134.4L1748.4,132.4L1748.4,131.0L1747.1,129.9L1745.0,129.0L1744.3,126.4L1741.6,124.1L1740.2,121.5L1738.1,121.2L1734.5,121.2L1731.7,120.4L1726.9,117.5L1720.7,115.8L1717.6,116.1L1713.1,114.6L1710.4,113.5L1707.9,114.1L1708.3,116.1L1707.0,116.4L1704.4,116.9L1702.4,117.8L1699.9,118.4L1699.4,116.9L1700.5,114.1L1703.1,113.2L1702.4,112.4L1699.4,114.1L1697.8,115.8L1694.6,117.8L1696.2,119.2L1694.1,121.5L1691.6,122.7L1689.3,123.5L1688.6,124.7L1685.2,126.1L1684.5,127.6L1681.8,128.7L1680.1,128.7L1678.1,129.3L1675.8,130.4L1673.7,131.3L1669.8,132.2L1669.6,131.6L1672.1,130.4L1674.2,129.6L1676.7,127.8L1679.5,127.6L1680.6,126.4L1683.8,124.7L1684.3,124.1L1686.1,123.0L1686.3,121.0L1687.7,119.2L1685.0,120.1L1684.3,119.5L1682.9,120.7L1681.5,119.2L1680.9,120.1L1679.9,118.7L1677.6,119.8L1676.2,119.8L1676.5,117.2L1675.1,116.1L1672.1,116.7L1670.1,115.2L1668.7,114.6L1668.5,112.9L1666.9,111.8L1667.8,110.1L1669.6,108.6L1670.3,107.2L1672.1,106.9L1673.7,107.2L1675.6,106.0L1677.4,106.0L1679.0,105.2L1678.6,104.0L1677.4,103.5L1679.0,102.3L1677.6,102.3L1675.1,102.9L1674.4,103.7L1672.8,102.9L1669.5,103.5L1666.2,102.6L1665.2,101.4ZM1905.6,96.3L1903.1,98.9L1892.8,97.1L1895.1,99.4L1900.8,101.7L1899.5,106.9L1891.0,104.9L1896.2,108.3L1898.1,108.3L1895.6,110.3L1889.6,109.5L1882.7,105.5L1876.1,103.2L1869.4,104.0L1867.4,102.9L1869.0,100.9L1878.1,100.3L1880.9,95.1L1879.5,92.8L1871.3,90.5L1870.4,88.0L1866.5,86.8L1855.0,87.4L1845.8,86.0L1842.4,83.1L1844.7,77.9L1850.9,76.5L1858.9,76.5L1862.8,77.1L1868.8,77.6L1874.2,79.4L1882.0,81.9L1889.8,85.1L1893.5,89.7L1898.8,93.7ZM1864.2,65.6L1869.0,64.7L1867.6,63.6L1874.5,62.7L1874.9,61.3L1884.8,59.3L1890.5,57.0L1898.5,54.4L1906.6,52.4L1900.8,50.7L1887.1,49.8L1873.3,49.8L1859.6,50.4L1850.4,52.1L1839.0,54.4L1836.7,56.7L1827.5,58.7L1836.7,61.0L1842.4,62.7L1846.5,63.9L1855.0,64.7ZM1864.2,74.2L1850.4,74.5L1839.0,74.2L1834.4,72.5L1835.5,70.2L1843.5,69.0L1853.9,69.0L1863.7,69.3L1866.9,71.3ZM1814.9,88.0L1808.0,90.5L1798.9,90.8L1792.2,91.7L1785.1,90.5L1778.2,88.8L1774.1,83.7L1778.2,80.5L1781.7,77.9L1787.4,79.1L1793.1,79.6L1800.0,77.3L1803.4,78.5L1808.0,83.4L1814.0,85.4ZM1771.4,83.4L1760.4,81.9L1762.2,76.5L1765.6,75.1L1777.8,75.1L1782.8,77.3L1774.1,82.8ZM1809.2,72.2L1802.3,73.3L1786.5,74.8L1778.2,73.6L1781.7,69.3L1793.1,68.5L1798.9,69.0L1804.6,70.7ZM1826.4,81.4L1822.5,83.7L1814.9,80.2L1812.6,77.3L1819.5,76.2L1825.2,77.1ZM1833.9,79.4L1831.4,81.7L1828.9,81.7L1827.5,77.3L1830.9,75.6L1840.1,76.2ZM1839.0,63.9L1828.6,62.4L1828.6,58.1L1836.7,55.3L1845.1,57.8ZM1825.2,73.0L1816.0,71.3L1818.3,68.5L1824.1,68.5ZM1784.0,69.3L1774.8,70.7L1766.8,68.7L1773.6,66.4L1781.7,66.4ZM1863.0,105.2L1857.3,107.8L1850.4,105.5L1851.6,101.2L1855.7,99.4L1860.7,103.2ZM1920.5,140.2L1919.2,141.6L1916.2,143.1L1913.7,147.4L1911.4,149.1L1911.8,151.7L1918.5,151.7L1920.5,153.7L1923.3,152.0L1924.7,154.5L1926.7,152.0L1925.8,148.5L1924.0,146.5L1919.6,145.9L1920.3,143.6ZM1764.5,149.1L1759.4,147.6L1753.5,142.5L1755.8,143.1L1759.9,143.9L1763.6,147.4ZM1940.2,51.2L1948.0,49.5L1967.1,48.4L1985.4,48.7L1999.8,50.9L1995.5,52.1L1986.8,52.1L1974.4,52.4L1975.5,53.0L1983.6,52.7L1990.7,53.5L1995.0,52.7L1996.9,53.8L1994.3,55.3L2000.3,54.4L2011.3,53.2L2018.2,53.8L2019.5,55.0L2010.1,57.0L2008.8,57.5L2001.7,58.1L2006.9,58.4L2004.2,60.4L2002.4,62.1L2002.4,65.6L2005.1,67.3L2001.7,67.6L1997.8,68.5L2002.1,69.9L2002.6,72.5L2000.1,72.5L2003.0,75.1L1998.0,75.3L2000.8,76.5L1999.8,77.3L1996.6,77.9L1993.4,77.9L1996.4,79.9L1996.4,81.1L1991.8,79.9L1990.7,80.8L1993.9,81.4L1996.9,83.1L1997.5,85.4L1993.6,86.0L1991.8,84.8L1989.1,83.4L1989.8,85.1L1987.0,86.8L1993.2,86.8L1996.4,87.1L1990.2,89.4L1984.0,91.7L1977.1,92.8L1974.6,92.8L1972.3,94.0L1969.1,96.9L1964.1,98.9L1962.7,99.2L1959.5,99.7L1956.3,100.3L1954.2,102.3L1954.2,104.3L1953.1,106.0L1949.4,108.3L1950.3,110.6L1949.2,112.9L1948.0,115.8L1944.8,116.1L1941.4,113.5L1936.8,113.5L1934.8,112.1L1933.1,109.2L1929.2,105.8L1928.1,103.7L1927.6,101.2L1924.4,98.6L1925.4,96.6L1923.8,95.4L1926.0,92.0L1929.5,91.1L1930.4,90.0L1930.9,87.7L1928.3,88.5L1927.0,89.1L1924.9,89.4L1922.1,88.5L1921.9,86.5L1922.8,85.1L1925.1,85.1L1929.7,85.7L1925.8,83.9L1923.8,83.1L1921.5,83.4L1919.6,82.5L1922.1,79.9L1920.8,78.8L1918.9,77.1L1916.2,73.9L1913.2,72.8L1913.2,71.6L1907.0,69.9L1902.2,69.6L1896.0,69.9L1890.5,69.9L1887.8,69.0L1883.9,67.3L1889.8,66.4L1894.4,66.2L1884.8,65.6L1879.5,64.4L1879.8,63.3L1888.5,61.9L1896.9,60.4L1897.9,59.3L1891.7,58.4L1893.5,57.3L1901.5,55.3L1905.0,55.0L1903.8,53.5L1909.3,53.0L1916.4,52.4L1923.5,52.4L1926.0,53.2L1932.0,51.8L1937.5,52.7L1940.7,53.0L1945.5,53.8L1940.0,52.4ZM2014.3,97.4L2013.8,99.4L2016.3,101.4L2013.4,103.5L2004.6,106.0L1995.2,104.6L1997.5,103.5L1992.6,102.0L1996.6,101.4L1996.6,100.6L1991.8,100.0L1993.2,98.0L1996.9,97.7L2000.3,99.7L2003.7,98.0L2006.7,98.9L2010.4,97.4ZM1870.1,263.4L1871.5,263.6L1873.1,261.6L1874.0,261.3L1874.5,257.8L1875.9,256.4L1877.2,256.4L1877.5,255.8L1879.3,256.1L1882.0,254.1L1883.0,252.7L1883.9,252.7L1884.6,253.5L1884.1,254.4L1882.6,255.5L1883.4,256.8L1883.4,258.4L1882.3,259.8L1883.2,262.1L1884.1,262.1L1884.8,259.8L1883.9,256.8L1886.6,255.5L1886.4,254.4L1887.3,253.2L1888.0,255.3L1889.6,255.5L1891.2,257.0L1891.2,257.8L1893.3,258.1L1895.8,257.8L1896.9,259.0L1898.8,259.3L1900.1,258.4L1900.1,257.8L1902.9,257.5L1905.6,257.5L1903.8,258.4L1904.5,259.8L1906.3,259.8L1908.2,261.3L1908.4,263.6L1909.5,263.6L1910.5,264.1L1912.1,265.3L1913.4,267.3L1913.4,268.7L1914.4,268.7L1916.6,271.1L1919.4,271.6L1921.5,271.0L1923.8,271.6L1926.3,272.8L1928.8,275.1L1929.0,276.2L1929.9,276.2L1931.8,282.8L1933.0,283.4L1933.1,285.4L1931.3,287.7L1932.0,288.5L1936.1,288.8L1936.1,291.7L1938.0,290.0L1940.7,290.8L1944.6,292.8L1945.8,294.3L1945.3,296.0L1948.0,295.1L1952.4,296.6L1955.9,296.6L1959.3,298.9L1962.2,302.0L1963.9,302.9L1965.9,302.9L1966.8,304.0L1967.5,307.5L1968.0,309.2L1967.1,314.1L1965.9,315.8L1962.7,319.8L1961.1,323.3L1959.5,325.6L1958.8,325.8L1958.2,327.8L1958.4,333.3L1957.7,337.6L1957.4,339.6L1956.8,340.8L1956.3,344.5L1954.0,348.2L1953.8,351.1L1951.7,352.5L1951.3,354.2L1948.7,354.2L1945.3,355.4L1943.5,356.5L1940.9,357.4L1938.4,359.7L1936.4,362.6L1936.1,364.6L1936.4,366.3L1935.9,369.2L1935.4,370.6L1933.8,372.0L1931.3,377.1L1929.2,379.5L1927.6,380.6L1926.7,383.5L1924.2,387.0L1921.7,388.7L1919.9,388.1L1918.7,388.4L1916.6,387.0L1915.0,387.2L1913.7,385.5L1913.7,387.2L1916.4,389.5L1917.6,392.7L1917.3,394.1L1915.3,397.9L1911.8,399.3L1907.2,399.9L1904.7,399.6L1905.2,401.3L1904.7,403.6L1905.2,405.0L1903.8,405.9L1901.3,406.5L1899.2,405.3L1898.3,406.2L1898.6,409.1L1900.1,409.9L1901.3,408.8L1902.0,410.5L1899.9,411.3L1898.1,413.1L1897.9,415.9L1897.2,417.4L1895.1,417.4L1893.3,419.1L1892.6,421.1L1894.9,423.1L1897.2,423.7L1896.2,426.3L1893.5,428.0L1892.1,431.4L1890.1,432.6L1889.1,433.7L1889.8,436.9L1891.4,438.3L1890.3,438.3L1888.2,437.7L1885.0,440.0L1884.6,442.6L1881.1,441.8L1877.9,438.9L1874.9,436.3L1874.5,432.9L1874.5,428.0L1874.2,422.0L1876.3,419.7L1877.0,414.8L1879.8,415.9L1880.9,409.9L1879.3,409.1L1878.6,412.8L1877.2,412.2L1877.9,408.2L1878.6,402.7L1879.8,401.0L1879.1,398.1L1878.8,395.0L1879.8,394.7L1881.1,390.1L1882.7,385.5L1883.9,381.2L1883.2,376.9L1883.9,371.2L1885.0,367.4L1885.5,362.0L1886.2,356.0L1886.9,349.7L1886.6,345.1L1886.2,340.8L1883.9,339.3L1883.6,338.2L1879.3,335.3L1875.2,332.2L1873.3,330.1L1872.4,327.8L1872.6,327.0L1870.8,323.3L1868.5,318.1L1866.5,312.4L1864.6,308.9L1863.0,306.9L1861.4,305.8L1862.1,304.6L1861.0,301.7L1861.6,299.7L1863.5,298.0L1864.6,296.0L1864.2,294.6L1863.2,296.0L1861.9,294.6L1862.3,293.9L1862.1,291.4L1862.8,290.8L1863.2,289.1L1864.2,287.1L1863.9,286.0L1865.3,285.4L1866.7,284.2L1866.7,283.1L1867.1,281.7L1867.8,280.8L1869.0,280.5L1870.8,277.3L1869.9,276.5L1870.4,274.8L1869.9,272.2L1870.4,271.6L1869.9,269.0L1869.0,267.6L1869.2,266.2ZM1890.3,439.2L1891.0,440.6L1892.2,442.8L1895.2,444.5L1898.4,445.2L1897.4,446.6L1895.2,446.8L1894.0,445.8L1892.7,445.7L1890.2,445.7L1887.1,445.5L1884.8,443.5L1881.8,441.8L1884.6,440.3L1888.7,438.9ZM1907.2,437.0L1910.0,435.3L1911.9,436.0L1913.3,434.9L1915.2,436.2L1914.5,437.2L1911.4,438.0L1910.3,437.0L1908.4,438.3ZM1852.8,225.4L1853.9,224.5L1855.5,222.8L1858.4,222.0L1861.0,222.0L1862.8,222.0L1864.9,222.8L1865.8,224.0L1868.1,223.7L1870.8,226.0L1872.2,227.4L1874.2,228.0L1874.0,228.9L1875.9,228.9L1877.5,230.0L1877.2,230.7L1875.7,231.1L1874.2,231.1L1872.6,231.0L1869.2,231.1L1870.8,229.7L1869.9,228.9L1868.5,228.9L1867.6,228.0L1867.1,226.3L1865.8,226.3L1863.7,225.7L1863.0,225.1L1860.0,224.5L1859.1,224.0L1860.0,223.4L1857.8,223.1L1856.1,224.5L1855.2,224.5L1854.9,225.4L1853.9,225.7ZM1883.2,231.7L1883.4,231.1L1885.2,231.1L1886.6,232.0L1887.2,231.9L1887.5,232.9L1888.9,232.9L1888.8,233.7L1889.8,233.8L1891.0,234.9L1890.1,236.0L1888.9,235.5L1887.1,236.0L1885.9,236.0L1884.8,235.7L1883.9,237.7L1883.2,237.2L1881.6,236.0L1879.1,236.0L1876.8,235.7L1877.0,234.6L1880.9,235.5L1881.8,234.6L1880.7,233.4L1880.7,232.3L1879.3,232.0L1879.8,231.1L1881.1,231.1ZM1869.7,235.2L1871.3,235.5L1872.4,236.0L1872.9,236.9L1871.3,236.9L1870.6,237.5L1869.2,236.9L1868.1,236.0L1868.3,235.2ZM1895.6,235.2L1897.2,236.0L1896.7,236.7L1894.9,236.7L1893.5,236.9L1893.7,235.2ZM1691.1,233.5L1690.7,234.0L1690.1,233.6L1690.2,232.8L1689.8,231.7L1690.3,230.9L1690.2,230.4L1690.3,230.1L1691.4,230.6L1692.2,231.3L1692.7,232.3ZM1222.5,489.1L1234.1,489.7L1255.4,488.1L1278.6,489.7L1299.9,485.7L1311.0,489.1L1314.0,486.1L1329.2,482.1L1339.3,478.4L1346.4,477.4L1353.4,479.8L1359.5,482.1L1381.8,483.1L1383.8,485.7L1390.9,486.1L1392.9,488.5L1402.0,484.5L1410.1,481.5L1418.2,478.4L1438.4,478.4L1442.4,475.4L1452.5,476.8L1460.6,476.4L1471.7,480.4L1480.8,477.4L1491.0,480.4L1511.2,479.0L1517.2,480.4L1523.3,477.8L1533.4,477.8L1555.7,481.5L1565.8,484.1L1592.1,489.5L1606.2,492.0L1613.3,494.2L1606.2,499.7L1598.1,503.7L1595.1,507.7L1600.2,511.8L1605.2,510.4L1632.0,511.5L1638.1,512.7L1672.6,514.2L1681.8,512.5L1685.9,509.7L1699.1,510.7L1707.2,506.0L1715.3,505.0L1727.5,505.0L1737.7,502.4L1753.9,501.6L1756.4,498.9L1764.1,500.4L1782.4,501.0L1794.6,501.6L1799.6,505.0L1802.7,503.6L1814.9,504.0L1811.8,495.9L1821.0,494.5L1829.1,495.3L1841.3,497.3L1859.6,501.0L1863.7,498.5L1866.7,496.5L1878.9,498.5L1882.0,486.7L1888.0,486.7L1894.1,481.7L1896.2,477.6L1904.3,473.5L1916.5,470.1L1909.4,476.6L1908.4,486.7L1910.4,494.9L1907.3,503.0L1934.8,511.5L1965.3,513.2L1969.3,510.1L1985.6,506.0L1989.7,501.0L1995.8,501.0L2003.9,497.3L2018.1,495.3L2024.2,491.8L2048.5,488.8L2048.5,548.0L1221.5,548.0Z" fill="#d3d3d3"/><path d="M1289.2,170.0L1293.8,170.3L1296.5,168.6L1299.3,167.7L1303.2,167.7L1307.1,169.7L1310.3,170.9L1315.1,170.6L1317.8,169.2L1317.6,166.0L1316.2,163.7L1314.2,163.1L1311.2,161.1L1308.4,160.0L1306.6,158.6L1308.2,158.0L1310.0,155.7L1308.9,154.5L1312.1,153.4L1310.0,153.1L1308.2,153.4L1306.8,154.2L1304.5,154.5L1302.6,155.4L1302.7,157.3L1303.9,157.7L1306.1,158.0L1305.7,158.8L1303.2,159.4L1300.2,160.8L1298.8,160.3L1299.3,159.1L1297.0,158.3L1297.2,157.7L1299.5,156.5L1298.8,156.0L1295.1,155.4L1295.1,154.2L1292.9,154.5L1292.2,156.3L1290.3,158.3L1290.3,159.1L1289.2,159.7L1288.5,159.4L1288.0,162.9L1286.7,164.0L1286.0,166.0L1286.7,167.7L1286.9,168.9ZM2114.2,170.0L2118.8,170.3L2121.5,168.6L2124.3,167.7L2128.2,167.7L2132.1,169.7L2135.3,170.9L2140.1,170.6L2142.8,169.2L2142.6,166.0L2141.2,163.7L2139.2,163.1L2136.2,161.1L2133.4,160.0L2131.6,158.6L2133.2,158.0L2135.0,155.7L2133.9,154.5L2137.1,153.4L2135.0,153.1L2133.2,153.4L2131.8,154.2L2129.5,154.5L2127.6,155.4L2127.7,157.3L2128.9,157.7L2131.1,158.0L2130.7,158.8L2128.2,159.4L2125.2,160.8L2123.8,160.3L2124.3,159.1L2122.0,158.3L2122.2,157.7L2124.5,156.5L2123.8,156.0L2120.1,155.4L2120.1,154.2L2117.9,154.5L2117.2,156.3L2115.3,158.3L2115.3,159.1L2114.2,159.7L2113.5,159.4L2113.0,162.9L2111.7,164.0L2111.0,166.0L2111.7,167.7L2111.9,168.9Z" fill="#fff"/><path d="M1268.3,30.0V546.5M1314.2,30.0V546.5M1360.0,30.0V546.5M1405.8,30.0V546.5M1451.7,30.0V546.5M1497.5,30.0V546.5M1543.3,30.0V546.5M1589.2,30.0V546.5M1635.0,30.0V546.5M1680.8,30.0V546.5M1726.7,30.0V546.5M1772.5,30.0V546.5M1818.3,30.0V546.5M1864.2,30.0V546.5M1910.0,30.0V546.5M1955.8,30.0V546.5M2001.7,30.0V546.5M1222.5,489.1H2047.5M1222.5,431.7H2047.5M1222.5,374.3H2047.5M1222.5,316.9H2047.5M1222.5,259.6H2047.5M1222.5,202.2H2047.5M1222.5,144.8H2047.5M1222.5,87.4H2047.5" stroke="#fff" stroke-opacity="0.15" stroke-width="1" fill="none"/></g><circle cx="1685.71" cy="227.10" r="9.0" fill="#ff7f0e" stroke="#000" stroke-width="2.0"/><circle cx="1766.84" cy="179.76" r="9.0" fill="#ff7f0e" stroke="#000" stroke-width="2.0"/><circle cx="1778.99" cy="194.39" r="9.0" fill="#ff7f0e" stroke="#000" stroke-width="2.0"/><circle cx="1913.74" cy="387.53" r="9.0" fill="#ff7f0e" stroke="#000" stroke-width="2.0"/><circle cx="1860.02" cy="217.81" r="9.0" fill="#ff7f0e" stroke="#000" stroke-width="2.0"/><circle cx="1847.64" cy="201.02" r="9.0" fill="#ff7f0e" stroke="#000" stroke-width="2.0"/><circle cx="1877.89" cy="171.46" r="9.0" fill="#ff7f0e" stroke="#000" stroke-width="2.0"/><circle cx="2025.91" cy="177.23" r="9.0" fill="#ff7f0e" stroke="#000" stroke-width="2.0"/><circle cx="2037.19" cy="149.43" r="9.0" fill="#ff7f0e" stroke="#000" stroke-width="2.0"/><circle cx="1234.76" cy="164.06" r="9.0" fill="#ff7f0e" stroke="#000" stroke-width="2.0"/><circle cx="1254.03" cy="157.26" r="9.0" fill="#ff7f0e" stroke="#000" stroke-width="2.0"/><circle cx="1623.01" cy="393.96" r="9.0" fill="#ff7f0e" stroke="#000" stroke-width="2.0"/><circle cx="1569.07" cy="385.38" r="9.0" fill="#ff7f0e" stroke="#000" stroke-width="2.0"/><text x="1695.01" y="240.20" font-size="36.6">1</text><text x="1737.99" y="192.90" font-size="36.6">2</text><text x="1786.61" y="205.60" font-size="36.6">3</text><text x="1923.26" y="401.10" font-size="36.6">4</text><text x="1868.33" y="229.60" font-size="36.6">5</text><text x="1817.45" y="212.10" font-size="36.6">6</text><text x="1886.92" y="184.70" font-size="36.6">7</text><text x="1997.04" y="197.50" font-size="36.6">8</text><text x="2008.78" y="153.70" font-size="36.6">9</text><text x="1223.61" y="201.50" font-size="36.6">10</text><text x="1254.51" y="146.60" font-size="36.6">11</text><text x="1632.31" y="407.00" font-size="36.6">12</text><text x="1518.60" y="397.40" font-size="36.6">13</text><rect x="1222.5" y="30.0" width="825.0" height="516.5" fill="none" stroke="#000" stroke-width="2.1"/></g><text x="1232.3" y="66.9" font-size="36.6">(c)</text></svg></body></html>
